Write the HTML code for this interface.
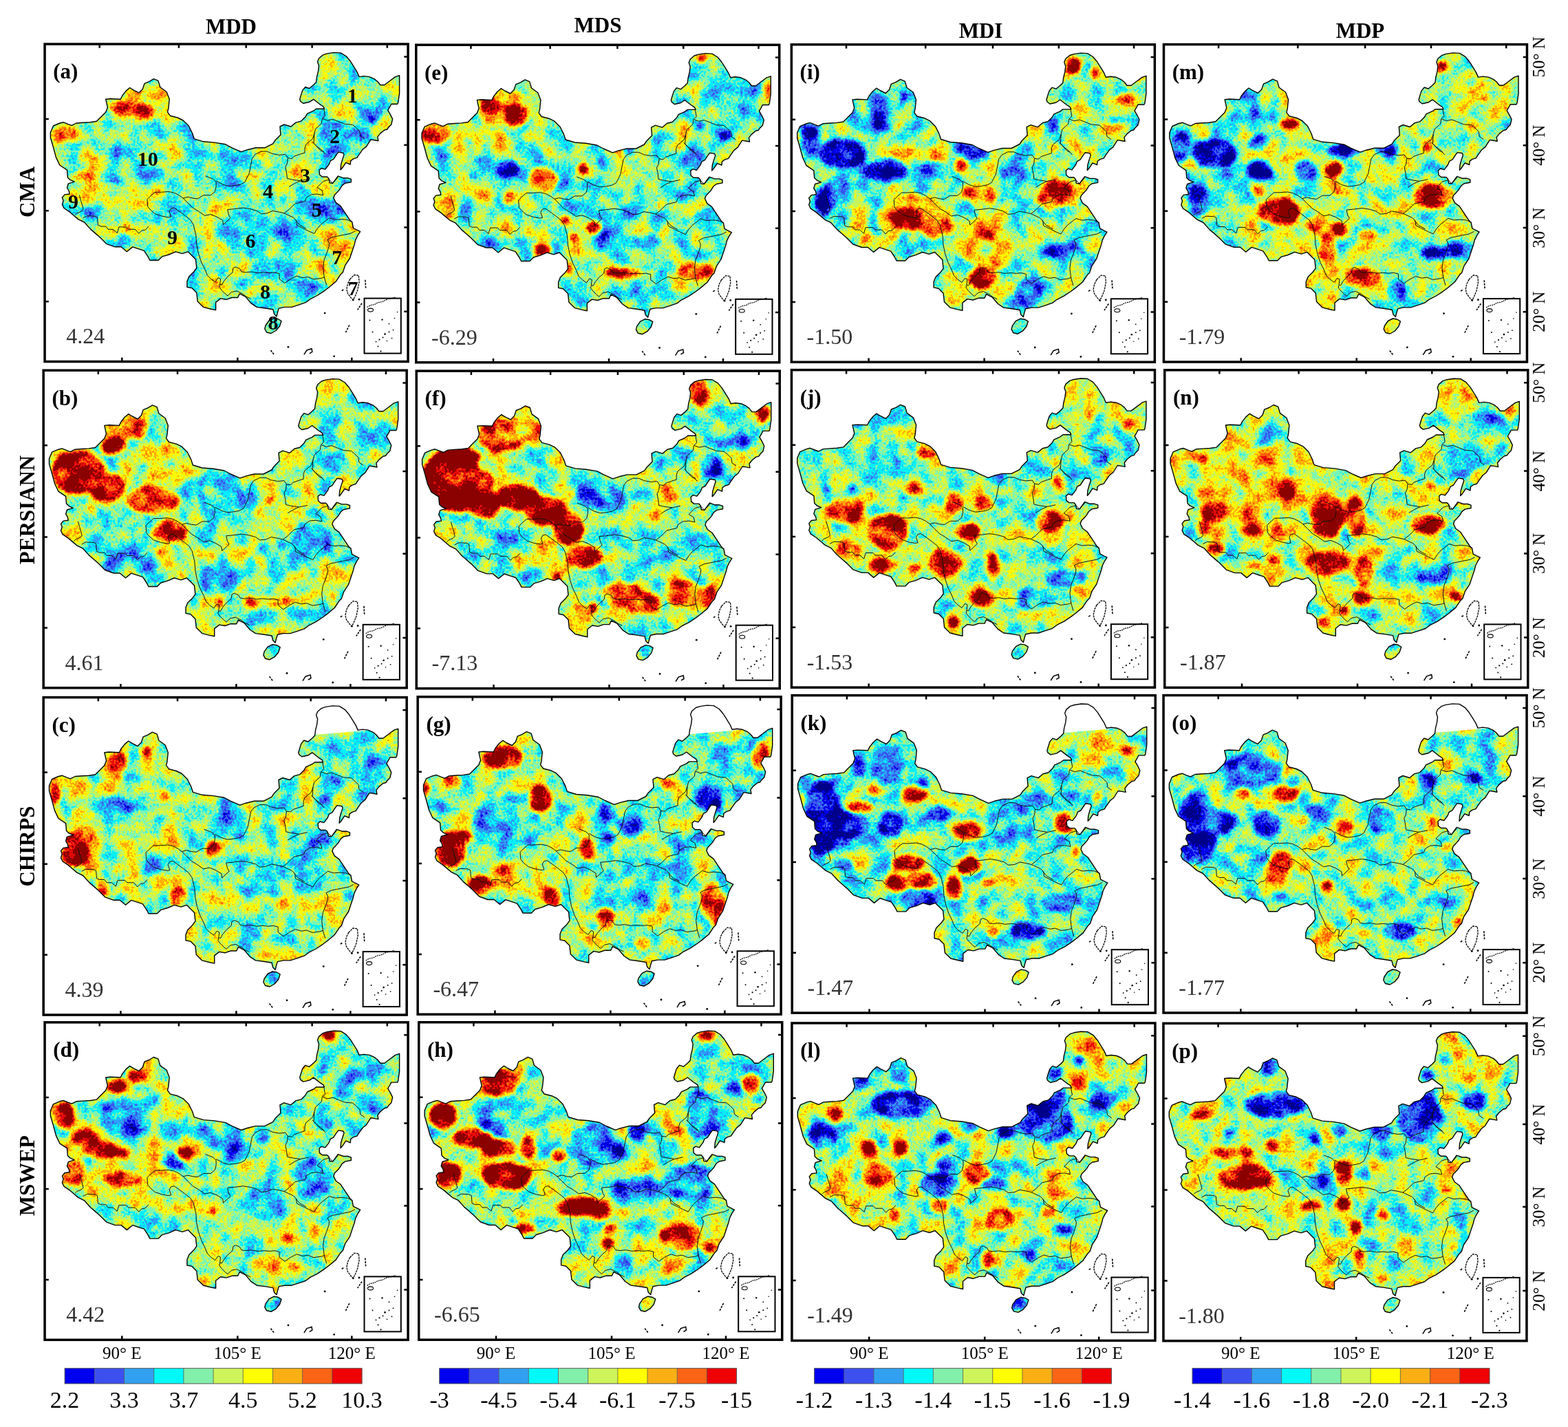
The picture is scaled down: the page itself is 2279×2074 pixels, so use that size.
<!DOCTYPE html><html><head><meta charset="utf-8"><title>Figure</title><style>html,body{margin:0;padding:0;background:#fff}body{width:2279px;height:2074px;overflow:hidden}svg{display:block}text{font-family:"Liberation Serif","Times New Roman",serif}</style></head><body>
<svg xmlns="http://www.w3.org/2000/svg" width="2279" height="2074" viewBox="0 0 2279 2074">
<defs>
<clipPath id="cn"><path d="M10.1,130.1 14.1,120.7 23.5,116.7 28.7,115.4 35.5,118.1 40.9,120.1 47.6,116.7 57,116 67.7,115.4 77.1,114 82.4,108.7 90.4,100.7 93.1,93.9 90.4,81.9 97.1,81.2 111.9,81.9 114.6,76.5 119.9,69.8 125.3,65.2 130.6,68.5 138.7,72.5 144,67.2 146.7,59.1 153.4,56.4 160.1,52.4 166.7,55.1 169.5,64.5 178.8,71.2 182.9,81.9 181.5,95.3 180.2,100.6 184.2,106 194.9,108.7 202.9,112.7 211,120.7 216.3,131.4 219,139.5 232.4,143.5 248.5,144.8 264.5,147.5 273.9,152.5 287.3,158.4 296.2,155.4 308.1,152.5 321.5,152.5 333.4,146.5 336.7,141.5 344.6,133.6 343.6,121.7 349.6,118.7 359.5,121.7 366.5,115.8 374.4,113.8 380.4,107.8 383.3,102.9 392.3,98.9 396.2,95.9 408.1,95.9 406.7,92.7 401.2,89 392.3,82 386.3,86 377.4,88 373.4,85 372.4,82 374.4,75.1 376.4,69.1 380.4,64.2 386.3,66.2 392.3,61.2 396.2,57.2 397.2,49.3 399.2,41.4 400.2,33.4 398.2,27.5 400.2,22.5 406.1,17.5 412.1,15.6 422,14.1 431.9,14.6 439.9,19.5 445.8,26.5 450.8,34.4 455.7,42.3 458.7,49.3 465.7,48.3 473.6,49.3 480.5,52.3 485.5,56.2 489.5,61.2 495.4,61.2 503.4,55.2 511.3,49.3 517.3,47.3 517.3,59.2 517.3,73.1 515.3,87 514.3,89 505.4,89 503.4,92.9 500.4,97.9 504.4,104.8 507.3,110.8 505.4,118.7 501.4,122.7 499.4,125.7 495.4,126.7 489.5,131.6 485.5,136.6 486.5,142.5 481.5,141.5 475.6,140.6 469.3,150.6 463.9,154.9 458.4,162.6 455.7,166.9 450.3,168.6 446.5,171.3 445.9,176.7 443.7,175.7 439.4,174 433.9,182.2 431.7,184.4 432.3,176.7 434.5,169.1 436.7,162.6 435.6,159.9 428.5,158.8 425.7,162.6 421.4,169.1 417,171.3 414.8,176.7 409.4,183.8 403.9,182.2 400.7,184.9 401.2,191.5 405,194.7 412.1,194.7 414.8,197.5 415.9,203.4 420.3,204 424.7,198 427.9,193.6 435.6,196.4 442.1,196.4 447,198 447,202.4 438.3,204 433.9,207.3 430.7,212.7 426.8,217.1 423,220.9 421.5,225.3 424.8,232.1 431.6,237.1 438.4,247.3 445.1,257.4 448.5,260.8 450.2,269.2 456.9,272.6 460.3,274.3 456.9,279.4 453.6,286.1 451.9,292.9 448.5,303 445.1,313.2 438.4,323.3 435,333.4 431.6,336.8 424.8,347 414.7,355.4 407.9,360.5 397.8,367.2 387.7,372.3 380.9,377.4 370.8,380.8 360.6,384.1 350.5,384.1 342,385.8 340.4,390.9 338.7,397.7 335.3,394.3 333.6,387.5 321.1,385.5 310,384.1 301.7,378.5 293.4,368.8 285,364.6 282.3,370.2 273.9,370.2 265.6,373 257.3,371.6 250.3,377.1 250.3,388.3 243.4,386.9 232.3,384.1 223.9,375.8 222.5,363.3 215.6,356.3 208.6,354.9 208.6,346.6 211.4,339.6 218.4,332.7 222.5,327.1 221.1,314.6 215.6,309.1 210,303.5 201.7,306.3 192,303.5 182.3,307.7 172.5,310.5 167,316 154.5,316 151.7,310.5 146.1,302.1 137.8,299.4 129.5,296.6 121.1,303.5 112.8,296.5 103.8,296.5 91.3,292 81.5,282.2 75.3,276.8 68.1,270.6 59.2,260.7 50.3,256.3 44,250.9 37.8,245.6 29.7,240.2 27.1,234.8 28.8,229.5 27.1,225 30.6,220.6 37.8,219.7 36.9,215.2 34.2,210.7 36,204.5 44.9,201.8 38.7,199.1 35.1,195.6 34.2,184.8 23.5,177.7 18.1,166.3 14.1,151.5 10.1,137.7ZM322.7,410.7 327.7,403.7 334.7,400.2 340.7,401.2 345.7,404.2 343.2,411.7 337.7,418.2 330.7,422.2 324.2,420.7 321.5,415.7Z"/></clipPath>
<clipPath id="ch"><path d="M-50,-50H380V57.5L600,38.9V600H-50Z"/></clipPath>
<path id="cnl" d="M10.1,130.1 14.1,120.7 23.5,116.7 28.7,115.4 35.5,118.1 40.9,120.1 47.6,116.7 57,116 67.7,115.4 77.1,114 82.4,108.7 90.4,100.7 93.1,93.9 90.4,81.9 97.1,81.2 111.9,81.9 114.6,76.5 119.9,69.8 125.3,65.2 130.6,68.5 138.7,72.5 144,67.2 146.7,59.1 153.4,56.4 160.1,52.4 166.7,55.1 169.5,64.5 178.8,71.2 182.9,81.9 181.5,95.3 180.2,100.6 184.2,106 194.9,108.7 202.9,112.7 211,120.7 216.3,131.4 219,139.5 232.4,143.5 248.5,144.8 264.5,147.5 273.9,152.5 287.3,158.4 296.2,155.4 308.1,152.5 321.5,152.5 333.4,146.5 336.7,141.5 344.6,133.6 343.6,121.7 349.6,118.7 359.5,121.7 366.5,115.8 374.4,113.8 380.4,107.8 383.3,102.9 392.3,98.9 396.2,95.9 408.1,95.9 406.7,92.7 401.2,89 392.3,82 386.3,86 377.4,88 373.4,85 372.4,82 374.4,75.1 376.4,69.1 380.4,64.2 386.3,66.2 392.3,61.2 396.2,57.2 397.2,49.3 399.2,41.4 400.2,33.4 398.2,27.5 400.2,22.5 406.1,17.5 412.1,15.6 422,14.1 431.9,14.6 439.9,19.5 445.8,26.5 450.8,34.4 455.7,42.3 458.7,49.3 465.7,48.3 473.6,49.3 480.5,52.3 485.5,56.2 489.5,61.2 495.4,61.2 503.4,55.2 511.3,49.3 517.3,47.3 517.3,59.2 517.3,73.1 515.3,87 514.3,89 505.4,89 503.4,92.9 500.4,97.9 504.4,104.8 507.3,110.8 505.4,118.7 501.4,122.7 499.4,125.7 495.4,126.7 489.5,131.6 485.5,136.6 486.5,142.5 481.5,141.5 475.6,140.6 469.3,150.6 463.9,154.9 458.4,162.6 455.7,166.9 450.3,168.6 446.5,171.3 445.9,176.7 443.7,175.7 439.4,174 433.9,182.2 431.7,184.4 432.3,176.7 434.5,169.1 436.7,162.6 435.6,159.9 428.5,158.8 425.7,162.6 421.4,169.1 417,171.3 414.8,176.7 409.4,183.8 403.9,182.2 400.7,184.9 401.2,191.5 405,194.7 412.1,194.7 414.8,197.5 415.9,203.4 420.3,204 424.7,198 427.9,193.6 435.6,196.4 442.1,196.4 447,198 447,202.4 438.3,204 433.9,207.3 430.7,212.7 426.8,217.1 423,220.9 421.5,225.3 424.8,232.1 431.6,237.1 438.4,247.3 445.1,257.4 448.5,260.8 450.2,269.2 456.9,272.6 460.3,274.3 456.9,279.4 453.6,286.1 451.9,292.9 448.5,303 445.1,313.2 438.4,323.3 435,333.4 431.6,336.8 424.8,347 414.7,355.4 407.9,360.5 397.8,367.2 387.7,372.3 380.9,377.4 370.8,380.8 360.6,384.1 350.5,384.1 342,385.8 340.4,390.9 338.7,397.7 335.3,394.3 333.6,387.5 321.1,385.5 310,384.1 301.7,378.5 293.4,368.8 285,364.6 282.3,370.2 273.9,370.2 265.6,373 257.3,371.6 250.3,377.1 250.3,388.3 243.4,386.9 232.3,384.1 223.9,375.8 222.5,363.3 215.6,356.3 208.6,354.9 208.6,346.6 211.4,339.6 218.4,332.7 222.5,327.1 221.1,314.6 215.6,309.1 210,303.5 201.7,306.3 192,303.5 182.3,307.7 172.5,310.5 167,316 154.5,316 151.7,310.5 146.1,302.1 137.8,299.4 129.5,296.6 121.1,303.5 112.8,296.5 103.8,296.5 91.3,292 81.5,282.2 75.3,276.8 68.1,270.6 59.2,260.7 50.3,256.3 44,250.9 37.8,245.6 29.7,240.2 27.1,234.8 28.8,229.5 27.1,225 30.6,220.6 37.8,219.7 36.9,215.2 34.2,210.7 36,204.5 44.9,201.8 38.7,199.1 35.1,195.6 34.2,184.8 23.5,177.7 18.1,166.3 14.1,151.5 10.1,137.7ZM322.7,410.7 327.7,403.7 334.7,400.2 340.7,401.2 345.7,404.2 343.2,411.7 337.7,418.2 330.7,422.2 324.2,420.7 321.5,415.7Z" fill="none" stroke="#000" stroke-width="1.4" stroke-linejoin="round"/>
<filter id="fa" filterUnits="userSpaceOnUse" x="-10" y="-10" width="552" height="486" color-interpolation-filters="sRGB"><feTurbulence type="fractalNoise" baseFrequency="0.035" numOctaves="2" seed="3" result="t1"/><feColorMatrix in="t1" type="matrix" values="1 0 0 0 0 1 0 0 0 0 1 0 0 0 0 0 0 0 0 1" result="g1"/><feTurbulence type="fractalNoise" baseFrequency="0.3" numOctaves="1" seed="103" result="t2"/><feColorMatrix in="t2" type="matrix" values="1 0 0 0 0 1 0 0 0 0 1 0 0 0 0 0 0 0 0 1" result="g2"/><feComposite in="g1" in2="g2" operator="arithmetic" k1="0" k2="0.75" k3="0.35" k4="-0.050000000000000044" result="n"/><feGaussianBlur in="SourceGraphic" stdDeviation="3" result="b"/><feComposite in="n" in2="b" operator="arithmetic" k1="0" k2="1" k3="1" k4="-0.5"/><feComponentTransfer><feFuncR type="discrete" tableValues="0.000 0.000 0.216 0.176 0.000 0.490 0.784 1.000 1.000 1.000 0.922 0.549"/><feFuncG type="discrete" tableValues="0.000 0.000 0.333 0.627 0.941 0.961 0.961 0.980 0.686 0.373 0.039 0.000"/><feFuncB type="discrete" tableValues="0.549 0.922 0.941 0.961 0.980 0.706 0.353 0.000 0.039 0.039 0.039 0.000"/><feFuncA type="linear" slope="0" intercept="1"/></feComponentTransfer></filter>
<filter id="fb" filterUnits="userSpaceOnUse" x="-10" y="-10" width="552" height="486" color-interpolation-filters="sRGB"><feTurbulence type="fractalNoise" baseFrequency="0.035" numOctaves="2" seed="10" result="t1"/><feColorMatrix in="t1" type="matrix" values="1 0 0 0 0 1 0 0 0 0 1 0 0 0 0 0 0 0 0 1" result="g1"/><feTurbulence type="fractalNoise" baseFrequency="0.3" numOctaves="1" seed="110" result="t2"/><feColorMatrix in="t2" type="matrix" values="1 0 0 0 0 1 0 0 0 0 1 0 0 0 0 0 0 0 0 1" result="g2"/><feComposite in="g1" in2="g2" operator="arithmetic" k1="0" k2="0.75" k3="0.35" k4="-0.050000000000000044" result="n"/><feGaussianBlur in="SourceGraphic" stdDeviation="3" result="b"/><feComposite in="n" in2="b" operator="arithmetic" k1="0" k2="1" k3="1" k4="-0.5"/><feComponentTransfer><feFuncR type="discrete" tableValues="0.000 0.000 0.216 0.176 0.000 0.490 0.784 1.000 1.000 1.000 0.922 0.549"/><feFuncG type="discrete" tableValues="0.000 0.000 0.333 0.627 0.941 0.961 0.961 0.980 0.686 0.373 0.039 0.000"/><feFuncB type="discrete" tableValues="0.549 0.922 0.941 0.961 0.980 0.706 0.353 0.000 0.039 0.039 0.039 0.000"/><feFuncA type="linear" slope="0" intercept="1"/></feComponentTransfer></filter>
<filter id="fc" filterUnits="userSpaceOnUse" x="-10" y="-10" width="552" height="486" color-interpolation-filters="sRGB"><feTurbulence type="fractalNoise" baseFrequency="0.035" numOctaves="2" seed="17" result="t1"/><feColorMatrix in="t1" type="matrix" values="1 0 0 0 0 1 0 0 0 0 1 0 0 0 0 0 0 0 0 1" result="g1"/><feTurbulence type="fractalNoise" baseFrequency="0.3" numOctaves="1" seed="117" result="t2"/><feColorMatrix in="t2" type="matrix" values="1 0 0 0 0 1 0 0 0 0 1 0 0 0 0 0 0 0 0 1" result="g2"/><feComposite in="g1" in2="g2" operator="arithmetic" k1="0" k2="0.75" k3="0.35" k4="-0.050000000000000044" result="n"/><feGaussianBlur in="SourceGraphic" stdDeviation="3" result="b"/><feComposite in="n" in2="b" operator="arithmetic" k1="0" k2="1" k3="1" k4="-0.5"/><feComponentTransfer><feFuncR type="discrete" tableValues="0.000 0.000 0.216 0.176 0.000 0.490 0.784 1.000 1.000 1.000 0.922 0.549"/><feFuncG type="discrete" tableValues="0.000 0.000 0.333 0.627 0.941 0.961 0.961 0.980 0.686 0.373 0.039 0.000"/><feFuncB type="discrete" tableValues="0.549 0.922 0.941 0.961 0.980 0.706 0.353 0.000 0.039 0.039 0.039 0.000"/><feFuncA type="linear" slope="0" intercept="1"/></feComponentTransfer></filter>
<filter id="fd" filterUnits="userSpaceOnUse" x="-10" y="-10" width="552" height="486" color-interpolation-filters="sRGB"><feTurbulence type="fractalNoise" baseFrequency="0.035" numOctaves="2" seed="24" result="t1"/><feColorMatrix in="t1" type="matrix" values="1 0 0 0 0 1 0 0 0 0 1 0 0 0 0 0 0 0 0 1" result="g1"/><feTurbulence type="fractalNoise" baseFrequency="0.3" numOctaves="1" seed="124" result="t2"/><feColorMatrix in="t2" type="matrix" values="1 0 0 0 0 1 0 0 0 0 1 0 0 0 0 0 0 0 0 1" result="g2"/><feComposite in="g1" in2="g2" operator="arithmetic" k1="0" k2="0.75" k3="0.35" k4="-0.050000000000000044" result="n"/><feGaussianBlur in="SourceGraphic" stdDeviation="3" result="b"/><feComposite in="n" in2="b" operator="arithmetic" k1="0" k2="1" k3="1" k4="-0.5"/><feComponentTransfer><feFuncR type="discrete" tableValues="0.000 0.000 0.216 0.176 0.000 0.490 0.784 1.000 1.000 1.000 0.922 0.549"/><feFuncG type="discrete" tableValues="0.000 0.000 0.333 0.627 0.941 0.961 0.961 0.980 0.686 0.373 0.039 0.000"/><feFuncB type="discrete" tableValues="0.549 0.922 0.941 0.961 0.980 0.706 0.353 0.000 0.039 0.039 0.039 0.000"/><feFuncA type="linear" slope="0" intercept="1"/></feComponentTransfer></filter>
<filter id="fe" filterUnits="userSpaceOnUse" x="-10" y="-10" width="552" height="486" color-interpolation-filters="sRGB"><feTurbulence type="fractalNoise" baseFrequency="0.035" numOctaves="2" seed="31" result="t1"/><feColorMatrix in="t1" type="matrix" values="1 0 0 0 0 1 0 0 0 0 1 0 0 0 0 0 0 0 0 1" result="g1"/><feTurbulence type="fractalNoise" baseFrequency="0.3" numOctaves="1" seed="131" result="t2"/><feColorMatrix in="t2" type="matrix" values="1 0 0 0 0 1 0 0 0 0 1 0 0 0 0 0 0 0 0 1" result="g2"/><feComposite in="g1" in2="g2" operator="arithmetic" k1="0" k2="0.75" k3="0.35" k4="-0.050000000000000044" result="n"/><feGaussianBlur in="SourceGraphic" stdDeviation="3" result="b"/><feComposite in="n" in2="b" operator="arithmetic" k1="0" k2="1" k3="1" k4="-0.5"/><feComponentTransfer><feFuncR type="discrete" tableValues="0.000 0.000 0.216 0.176 0.000 0.490 0.784 1.000 1.000 1.000 0.922 0.549"/><feFuncG type="discrete" tableValues="0.000 0.000 0.333 0.627 0.941 0.961 0.961 0.980 0.686 0.373 0.039 0.000"/><feFuncB type="discrete" tableValues="0.549 0.922 0.941 0.961 0.980 0.706 0.353 0.000 0.039 0.039 0.039 0.000"/><feFuncA type="linear" slope="0" intercept="1"/></feComponentTransfer></filter>
<filter id="ff" filterUnits="userSpaceOnUse" x="-10" y="-10" width="552" height="486" color-interpolation-filters="sRGB"><feTurbulence type="fractalNoise" baseFrequency="0.035" numOctaves="2" seed="38" result="t1"/><feColorMatrix in="t1" type="matrix" values="1 0 0 0 0 1 0 0 0 0 1 0 0 0 0 0 0 0 0 1" result="g1"/><feTurbulence type="fractalNoise" baseFrequency="0.3" numOctaves="1" seed="138" result="t2"/><feColorMatrix in="t2" type="matrix" values="1 0 0 0 0 1 0 0 0 0 1 0 0 0 0 0 0 0 0 1" result="g2"/><feComposite in="g1" in2="g2" operator="arithmetic" k1="0" k2="0.75" k3="0.35" k4="-0.050000000000000044" result="n"/><feGaussianBlur in="SourceGraphic" stdDeviation="3" result="b"/><feComposite in="n" in2="b" operator="arithmetic" k1="0" k2="1" k3="1" k4="-0.5"/><feComponentTransfer><feFuncR type="discrete" tableValues="0.000 0.000 0.216 0.176 0.000 0.490 0.784 1.000 1.000 1.000 0.922 0.549"/><feFuncG type="discrete" tableValues="0.000 0.000 0.333 0.627 0.941 0.961 0.961 0.980 0.686 0.373 0.039 0.000"/><feFuncB type="discrete" tableValues="0.549 0.922 0.941 0.961 0.980 0.706 0.353 0.000 0.039 0.039 0.039 0.000"/><feFuncA type="linear" slope="0" intercept="1"/></feComponentTransfer></filter>
<filter id="fg" filterUnits="userSpaceOnUse" x="-10" y="-10" width="552" height="486" color-interpolation-filters="sRGB"><feTurbulence type="fractalNoise" baseFrequency="0.035" numOctaves="2" seed="45" result="t1"/><feColorMatrix in="t1" type="matrix" values="1 0 0 0 0 1 0 0 0 0 1 0 0 0 0 0 0 0 0 1" result="g1"/><feTurbulence type="fractalNoise" baseFrequency="0.3" numOctaves="1" seed="145" result="t2"/><feColorMatrix in="t2" type="matrix" values="1 0 0 0 0 1 0 0 0 0 1 0 0 0 0 0 0 0 0 1" result="g2"/><feComposite in="g1" in2="g2" operator="arithmetic" k1="0" k2="0.75" k3="0.35" k4="-0.050000000000000044" result="n"/><feGaussianBlur in="SourceGraphic" stdDeviation="3" result="b"/><feComposite in="n" in2="b" operator="arithmetic" k1="0" k2="1" k3="1" k4="-0.5"/><feComponentTransfer><feFuncR type="discrete" tableValues="0.000 0.000 0.216 0.176 0.000 0.490 0.784 1.000 1.000 1.000 0.922 0.549"/><feFuncG type="discrete" tableValues="0.000 0.000 0.333 0.627 0.941 0.961 0.961 0.980 0.686 0.373 0.039 0.000"/><feFuncB type="discrete" tableValues="0.549 0.922 0.941 0.961 0.980 0.706 0.353 0.000 0.039 0.039 0.039 0.000"/><feFuncA type="linear" slope="0" intercept="1"/></feComponentTransfer></filter>
<filter id="fh" filterUnits="userSpaceOnUse" x="-10" y="-10" width="552" height="486" color-interpolation-filters="sRGB"><feTurbulence type="fractalNoise" baseFrequency="0.035" numOctaves="2" seed="52" result="t1"/><feColorMatrix in="t1" type="matrix" values="1 0 0 0 0 1 0 0 0 0 1 0 0 0 0 0 0 0 0 1" result="g1"/><feTurbulence type="fractalNoise" baseFrequency="0.3" numOctaves="1" seed="152" result="t2"/><feColorMatrix in="t2" type="matrix" values="1 0 0 0 0 1 0 0 0 0 1 0 0 0 0 0 0 0 0 1" result="g2"/><feComposite in="g1" in2="g2" operator="arithmetic" k1="0" k2="0.75" k3="0.35" k4="-0.050000000000000044" result="n"/><feGaussianBlur in="SourceGraphic" stdDeviation="3" result="b"/><feComposite in="n" in2="b" operator="arithmetic" k1="0" k2="1" k3="1" k4="-0.5"/><feComponentTransfer><feFuncR type="discrete" tableValues="0.000 0.000 0.216 0.176 0.000 0.490 0.784 1.000 1.000 1.000 0.922 0.549"/><feFuncG type="discrete" tableValues="0.000 0.000 0.333 0.627 0.941 0.961 0.961 0.980 0.686 0.373 0.039 0.000"/><feFuncB type="discrete" tableValues="0.549 0.922 0.941 0.961 0.980 0.706 0.353 0.000 0.039 0.039 0.039 0.000"/><feFuncA type="linear" slope="0" intercept="1"/></feComponentTransfer></filter>
<filter id="fi" filterUnits="userSpaceOnUse" x="-10" y="-10" width="552" height="486" color-interpolation-filters="sRGB"><feTurbulence type="fractalNoise" baseFrequency="0.035" numOctaves="2" seed="59" result="t1"/><feColorMatrix in="t1" type="matrix" values="1 0 0 0 0 1 0 0 0 0 1 0 0 0 0 0 0 0 0 1" result="g1"/><feTurbulence type="fractalNoise" baseFrequency="0.3" numOctaves="1" seed="159" result="t2"/><feColorMatrix in="t2" type="matrix" values="1 0 0 0 0 1 0 0 0 0 1 0 0 0 0 0 0 0 0 1" result="g2"/><feComposite in="g1" in2="g2" operator="arithmetic" k1="0" k2="0.75" k3="0.35" k4="-0.050000000000000044" result="n"/><feGaussianBlur in="SourceGraphic" stdDeviation="3" result="b"/><feComposite in="n" in2="b" operator="arithmetic" k1="0" k2="1" k3="1" k4="-0.5"/><feComponentTransfer><feFuncR type="discrete" tableValues="0.000 0.000 0.216 0.176 0.000 0.490 0.784 1.000 1.000 1.000 0.922 0.549"/><feFuncG type="discrete" tableValues="0.000 0.000 0.333 0.627 0.941 0.961 0.961 0.980 0.686 0.373 0.039 0.000"/><feFuncB type="discrete" tableValues="0.549 0.922 0.941 0.961 0.980 0.706 0.353 0.000 0.039 0.039 0.039 0.000"/><feFuncA type="linear" slope="0" intercept="1"/></feComponentTransfer></filter>
<filter id="fj" filterUnits="userSpaceOnUse" x="-10" y="-10" width="552" height="486" color-interpolation-filters="sRGB"><feTurbulence type="fractalNoise" baseFrequency="0.035" numOctaves="2" seed="66" result="t1"/><feColorMatrix in="t1" type="matrix" values="1 0 0 0 0 1 0 0 0 0 1 0 0 0 0 0 0 0 0 1" result="g1"/><feTurbulence type="fractalNoise" baseFrequency="0.3" numOctaves="1" seed="166" result="t2"/><feColorMatrix in="t2" type="matrix" values="1 0 0 0 0 1 0 0 0 0 1 0 0 0 0 0 0 0 0 1" result="g2"/><feComposite in="g1" in2="g2" operator="arithmetic" k1="0" k2="0.75" k3="0.35" k4="-0.050000000000000044" result="n"/><feGaussianBlur in="SourceGraphic" stdDeviation="3" result="b"/><feComposite in="n" in2="b" operator="arithmetic" k1="0" k2="1" k3="1" k4="-0.5"/><feComponentTransfer><feFuncR type="discrete" tableValues="0.000 0.000 0.216 0.176 0.000 0.490 0.784 1.000 1.000 1.000 0.922 0.549"/><feFuncG type="discrete" tableValues="0.000 0.000 0.333 0.627 0.941 0.961 0.961 0.980 0.686 0.373 0.039 0.000"/><feFuncB type="discrete" tableValues="0.549 0.922 0.941 0.961 0.980 0.706 0.353 0.000 0.039 0.039 0.039 0.000"/><feFuncA type="linear" slope="0" intercept="1"/></feComponentTransfer></filter>
<filter id="fk" filterUnits="userSpaceOnUse" x="-10" y="-10" width="552" height="486" color-interpolation-filters="sRGB"><feTurbulence type="fractalNoise" baseFrequency="0.035" numOctaves="2" seed="73" result="t1"/><feColorMatrix in="t1" type="matrix" values="1 0 0 0 0 1 0 0 0 0 1 0 0 0 0 0 0 0 0 1" result="g1"/><feTurbulence type="fractalNoise" baseFrequency="0.3" numOctaves="1" seed="173" result="t2"/><feColorMatrix in="t2" type="matrix" values="1 0 0 0 0 1 0 0 0 0 1 0 0 0 0 0 0 0 0 1" result="g2"/><feComposite in="g1" in2="g2" operator="arithmetic" k1="0" k2="0.75" k3="0.35" k4="-0.050000000000000044" result="n"/><feGaussianBlur in="SourceGraphic" stdDeviation="3" result="b"/><feComposite in="n" in2="b" operator="arithmetic" k1="0" k2="1" k3="1" k4="-0.5"/><feComponentTransfer><feFuncR type="discrete" tableValues="0.000 0.000 0.216 0.176 0.000 0.490 0.784 1.000 1.000 1.000 0.922 0.549"/><feFuncG type="discrete" tableValues="0.000 0.000 0.333 0.627 0.941 0.961 0.961 0.980 0.686 0.373 0.039 0.000"/><feFuncB type="discrete" tableValues="0.549 0.922 0.941 0.961 0.980 0.706 0.353 0.000 0.039 0.039 0.039 0.000"/><feFuncA type="linear" slope="0" intercept="1"/></feComponentTransfer></filter>
<filter id="fl" filterUnits="userSpaceOnUse" x="-10" y="-10" width="552" height="486" color-interpolation-filters="sRGB"><feTurbulence type="fractalNoise" baseFrequency="0.035" numOctaves="2" seed="80" result="t1"/><feColorMatrix in="t1" type="matrix" values="1 0 0 0 0 1 0 0 0 0 1 0 0 0 0 0 0 0 0 1" result="g1"/><feTurbulence type="fractalNoise" baseFrequency="0.3" numOctaves="1" seed="180" result="t2"/><feColorMatrix in="t2" type="matrix" values="1 0 0 0 0 1 0 0 0 0 1 0 0 0 0 0 0 0 0 1" result="g2"/><feComposite in="g1" in2="g2" operator="arithmetic" k1="0" k2="0.75" k3="0.35" k4="-0.050000000000000044" result="n"/><feGaussianBlur in="SourceGraphic" stdDeviation="3" result="b"/><feComposite in="n" in2="b" operator="arithmetic" k1="0" k2="1" k3="1" k4="-0.5"/><feComponentTransfer><feFuncR type="discrete" tableValues="0.000 0.000 0.216 0.176 0.000 0.490 0.784 1.000 1.000 1.000 0.922 0.549"/><feFuncG type="discrete" tableValues="0.000 0.000 0.333 0.627 0.941 0.961 0.961 0.980 0.686 0.373 0.039 0.000"/><feFuncB type="discrete" tableValues="0.549 0.922 0.941 0.961 0.980 0.706 0.353 0.000 0.039 0.039 0.039 0.000"/><feFuncA type="linear" slope="0" intercept="1"/></feComponentTransfer></filter>
<filter id="fm" filterUnits="userSpaceOnUse" x="-10" y="-10" width="552" height="486" color-interpolation-filters="sRGB"><feTurbulence type="fractalNoise" baseFrequency="0.035" numOctaves="2" seed="87" result="t1"/><feColorMatrix in="t1" type="matrix" values="1 0 0 0 0 1 0 0 0 0 1 0 0 0 0 0 0 0 0 1" result="g1"/><feTurbulence type="fractalNoise" baseFrequency="0.3" numOctaves="1" seed="187" result="t2"/><feColorMatrix in="t2" type="matrix" values="1 0 0 0 0 1 0 0 0 0 1 0 0 0 0 0 0 0 0 1" result="g2"/><feComposite in="g1" in2="g2" operator="arithmetic" k1="0" k2="0.75" k3="0.35" k4="-0.050000000000000044" result="n"/><feGaussianBlur in="SourceGraphic" stdDeviation="3" result="b"/><feComposite in="n" in2="b" operator="arithmetic" k1="0" k2="1" k3="1" k4="-0.5"/><feComponentTransfer><feFuncR type="discrete" tableValues="0.000 0.000 0.216 0.176 0.000 0.490 0.784 1.000 1.000 1.000 0.922 0.549"/><feFuncG type="discrete" tableValues="0.000 0.000 0.333 0.627 0.941 0.961 0.961 0.980 0.686 0.373 0.039 0.000"/><feFuncB type="discrete" tableValues="0.549 0.922 0.941 0.961 0.980 0.706 0.353 0.000 0.039 0.039 0.039 0.000"/><feFuncA type="linear" slope="0" intercept="1"/></feComponentTransfer></filter>
<filter id="fn" filterUnits="userSpaceOnUse" x="-10" y="-10" width="552" height="486" color-interpolation-filters="sRGB"><feTurbulence type="fractalNoise" baseFrequency="0.035" numOctaves="2" seed="94" result="t1"/><feColorMatrix in="t1" type="matrix" values="1 0 0 0 0 1 0 0 0 0 1 0 0 0 0 0 0 0 0 1" result="g1"/><feTurbulence type="fractalNoise" baseFrequency="0.3" numOctaves="1" seed="194" result="t2"/><feColorMatrix in="t2" type="matrix" values="1 0 0 0 0 1 0 0 0 0 1 0 0 0 0 0 0 0 0 1" result="g2"/><feComposite in="g1" in2="g2" operator="arithmetic" k1="0" k2="0.75" k3="0.35" k4="-0.050000000000000044" result="n"/><feGaussianBlur in="SourceGraphic" stdDeviation="3" result="b"/><feComposite in="n" in2="b" operator="arithmetic" k1="0" k2="1" k3="1" k4="-0.5"/><feComponentTransfer><feFuncR type="discrete" tableValues="0.000 0.000 0.216 0.176 0.000 0.490 0.784 1.000 1.000 1.000 0.922 0.549"/><feFuncG type="discrete" tableValues="0.000 0.000 0.333 0.627 0.941 0.961 0.961 0.980 0.686 0.373 0.039 0.000"/><feFuncB type="discrete" tableValues="0.549 0.922 0.941 0.961 0.980 0.706 0.353 0.000 0.039 0.039 0.039 0.000"/><feFuncA type="linear" slope="0" intercept="1"/></feComponentTransfer></filter>
<filter id="fo" filterUnits="userSpaceOnUse" x="-10" y="-10" width="552" height="486" color-interpolation-filters="sRGB"><feTurbulence type="fractalNoise" baseFrequency="0.035" numOctaves="2" seed="101" result="t1"/><feColorMatrix in="t1" type="matrix" values="1 0 0 0 0 1 0 0 0 0 1 0 0 0 0 0 0 0 0 1" result="g1"/><feTurbulence type="fractalNoise" baseFrequency="0.3" numOctaves="1" seed="201" result="t2"/><feColorMatrix in="t2" type="matrix" values="1 0 0 0 0 1 0 0 0 0 1 0 0 0 0 0 0 0 0 1" result="g2"/><feComposite in="g1" in2="g2" operator="arithmetic" k1="0" k2="0.75" k3="0.35" k4="-0.050000000000000044" result="n"/><feGaussianBlur in="SourceGraphic" stdDeviation="3" result="b"/><feComposite in="n" in2="b" operator="arithmetic" k1="0" k2="1" k3="1" k4="-0.5"/><feComponentTransfer><feFuncR type="discrete" tableValues="0.000 0.000 0.216 0.176 0.000 0.490 0.784 1.000 1.000 1.000 0.922 0.549"/><feFuncG type="discrete" tableValues="0.000 0.000 0.333 0.627 0.941 0.961 0.961 0.980 0.686 0.373 0.039 0.000"/><feFuncB type="discrete" tableValues="0.549 0.922 0.941 0.961 0.980 0.706 0.353 0.000 0.039 0.039 0.039 0.000"/><feFuncA type="linear" slope="0" intercept="1"/></feComponentTransfer></filter>
<filter id="fp" filterUnits="userSpaceOnUse" x="-10" y="-10" width="552" height="486" color-interpolation-filters="sRGB"><feTurbulence type="fractalNoise" baseFrequency="0.035" numOctaves="2" seed="108" result="t1"/><feColorMatrix in="t1" type="matrix" values="1 0 0 0 0 1 0 0 0 0 1 0 0 0 0 0 0 0 0 1" result="g1"/><feTurbulence type="fractalNoise" baseFrequency="0.3" numOctaves="1" seed="208" result="t2"/><feColorMatrix in="t2" type="matrix" values="1 0 0 0 0 1 0 0 0 0 1 0 0 0 0 0 0 0 0 1" result="g2"/><feComposite in="g1" in2="g2" operator="arithmetic" k1="0" k2="0.75" k3="0.35" k4="-0.050000000000000044" result="n"/><feGaussianBlur in="SourceGraphic" stdDeviation="3" result="b"/><feComposite in="n" in2="b" operator="arithmetic" k1="0" k2="1" k3="1" k4="-0.5"/><feComponentTransfer><feFuncR type="discrete" tableValues="0.000 0.000 0.216 0.176 0.000 0.490 0.784 1.000 1.000 1.000 0.922 0.549"/><feFuncG type="discrete" tableValues="0.000 0.000 0.333 0.627 0.941 0.961 0.961 0.980 0.686 0.373 0.039 0.000"/><feFuncB type="discrete" tableValues="0.549 0.922 0.941 0.961 0.980 0.706 0.353 0.000 0.039 0.039 0.039 0.000"/><feFuncA type="linear" slope="0" intercept="1"/></feComponentTransfer></filter>
<g id="prov" fill="none" stroke="#111" stroke-width="1" stroke-linejoin="round">
<path d="M57.3,254.5 63.4,251.4 74.7,251.9 78.2,253.6 79.1,264.9 83.4,266.7 90.4,266.7 93.9,271.0 100.9,271.0 107.0,276.3 109.6,267.6 120.0,267.6 123.5,271.0 133.1,271.0 138.4,277.1 142.7,272.8 147.9,271.9 152.7,266.7"/>
<path d="M52.0,221.3 54.2,229.2 56.4,236.2 57.7,242.3 54.7,244.9 48.5,247.5 45.9,250.1"/>
<path d="M161.9,217.0 154.9,223.1 150.6,227.4 151.4,237.9 154.9,242.3 161.9,248.4 172.3,251.9 181.7,253.6 185.4,252.8 182.8,244.9 185.4,240.6 189.8,239.7 198.5,245.8 205.5,251.0 213.3,257.1 217.7,264.1 221.5,279.5 222.4,292.6 225.0,305.7 229.4,318.7 234.6,329.2 238.1,337.9 243.3,343.1 249.4,347.5 253.8,341.4 257.3,343.1 256.4,351.0 259.0,351.9 262.5,345.8 267.7,339.7 274.7,333.6 275.6,327.4 279.1,325.7 285.2,328.3 287.8,332.7 293.9,333.6 302.6,332.7 311.3,334.4 320.0,333.6 328.8,334.4 335.7,333.6 342.7,335.3 342.7,343.1 350.6,349.2 359.3,343.1 368.0,338.8 376.7,341.4 384.3,340.2 392.7,343.6 404.6,341.9 408.7,340.2"/>
<path d="M161.9,217.0 170.4,217.0 181.9,216.2 189.8,217.9 196.8,221.4 202.9,225.8 209.8,224.0 216.8,225.8 223.8,226.6 232.5,221.4 243.0,221.4 249.1,216.2 250.8,209.2 250.8,202.2 246.4,197.9 239.5,195.2 235.1,193.5"/>
<path d="M202.9,225.8 209.8,232.7 216.8,239.7 225.5,244.9 234.2,251.0 243.0,249.3 251.7,252.8 260.4,258.0 261.3,264.1 271.7,254.5 269.1,250.2 267.4,242.3"/>
<path d="M250.8,200.5 260.4,205.7 269.1,208.3 277.8,207.4 286.6,205.7 292.7,202.2 298.8,190.0 301.4,176.9 303.1,168.2 307.5,162.1 316.2,157.8 324.9,157.8 332.8,161.2 342.3,163.0 351.5,162.1 355.0,167.3 361.1,168.2 364.1,164.9 373.6,161.5 379.7,159.7 379.7,152.8 381.4,147.6 391.0,139.7 393.6,131.9 395.3,125.0 404.0,117.2 404.9,110.2 409.2,105.9 407.5,96.3"/>
<path d="M405.7,110.2 412.7,112.8 420.5,111.1 429.2,114.6 437.8,118.0 449.1,118.9 454.3,123.3 459.5,128.5 460.4,135.4 466.5,139.7"/>
<path d="M393.6,131.9 392.7,145.8 402.3,156.2 407.5,158.8"/>
<path d="M390.7,143.8 397.7,150.8 404.7,156.0 409.9,162.1"/>
<path d="M267.4,242.3 277.0,241.4 290.0,239.7 300.5,241.4 310.1,244.1 316.2,248.4 324.9,247.6 332.8,244.1 342.3,245.8 349.8,247.6 362.9,253.7 367.2,258.0 368.1,265.0 378.5,270.2 385.5,273.7 393.4,277.2 397.7,270.2 403.0,264.1 410.8,258.0 415.2,254.5 423.9,257.1 432.6,256.3 441.3,257.1 449.2,260.6"/>
<path d="M355.0,167.3 354.1,175.2 351.5,180.4 353.3,189.1 354.1,197.0 361.1,198.7 373.3,200.5 385.5,197.9"/>
<path d="M356.8,209.2 365.5,204.0 373.3,200.5"/>
<path d="M428.2,195.2 420.4,204.0 415.2,198.7 406.4,201.3 397.7,210.1 404.7,214.4 406.4,221.4 397.7,219.7 389.0,220.5 382.0,224.9 380.3,230.1 365.5,233.6 356.8,242.3 349.8,247.6"/>
<path d="M452.7,273.7 445.7,277.2 437.0,278.9 428.2,280.7 419.5,282.4 412.6,285.9 415.2,291.1 414.7,296.3 411.3,306.4 407.9,314.8 406.3,326.7 407.9,340.2 411.3,352.0"/>
<path d="M256.4,351.0 255.5,355.3 259.0,359.7 264.2,364.9 267.7,367.6 273.0,362.3 280.8,360.6 289.5,364.9 293.9,368.4 300.9,371.9"/>
<path d="M366.2,257.7 372.3,264.7 381.7,269.9"/>
</g>
<g id="deco"><path d="M445.3,343.6 451.6,337.2 458.0,338.0 458.8,347.5 456.4,359.4 453.2,367.4 450.0,373.7 446.9,370.6 442.1,364.2 440.5,357.9 442.1,349.9Z" fill="none" stroke="#000" stroke-width="1.3" stroke-dasharray="3 1"/><path d="M433.4,360.2L437.3,357.9" stroke="#000" stroke-width="1.6" stroke-dasharray="3 1.5"/><path d="M467.5,344.4L468.3,356.3" stroke="#000" stroke-width="1.6" stroke-dasharray="3 1.5"/><path d="M462.7,378.5L456.4,388.0" stroke="#000" stroke-width="1.6" stroke-dasharray="3 1.5"/><path d="M444.5,410.2L438.9,421.4" stroke="#000" stroke-width="1.6" stroke-dasharray="3 1.5"/><path d="M330.2,446.7L335.0,453.1" stroke="#000" stroke-width="1.6" stroke-dasharray="3 1.5"/><path d="M378.6,453.1L382.6,446.7 389.7,444.4 390.5,449.1 386.5,451.5" fill="none" stroke="#000" stroke-width="1.5"/><circle cx="450.0" cy="373.7" r="1.4" fill="#000"/><circle cx="458.7" cy="372.9" r="1.4" fill="#000"/><circle cx="408.8" cy="392.8" r="1.4" fill="#000"/><circle cx="355.6" cy="442.0" r="1.4" fill="#000"/><circle cx="422.3" cy="455.5" r="1.4" fill="#000"/><rect x="466.2" y="371.3" width="53.3" height="80" fill="none" stroke="#000" stroke-width="2"/><path d="M470.2,384.3 l5,-3 l6,-1 l5,-3 l6,-1 l8,-4 l6,-1 l6,-2" fill="none" stroke="#000" stroke-width="1.2" stroke-dasharray="2 1"/><ellipse cx="475.2" cy="388.3" rx="4" ry="2.5" fill="none" stroke="#000" stroke-width="1.1"/><circle cx="474.2" cy="403.3" r="1" fill="#000"/><circle cx="492.2" cy="402.3" r="1.2" fill="#000"/><circle cx="502.2" cy="408.3" r="0.9" fill="#000"/><circle cx="478.2" cy="420.3" r="1" fill="#000"/><circle cx="496.2" cy="423.3" r="1.3" fill="#000"/><circle cx="502.2" cy="420.3" r="1" fill="#000"/><circle cx="508.2" cy="417.3" r="0.9" fill="#000"/><circle cx="493.2" cy="428.3" r="1" fill="#000"/><circle cx="488.2" cy="431.3" r="1.1" fill="#000"/><circle cx="483.2" cy="434.3" r="0.9" fill="#000"/><circle cx="486.2" cy="441.3" r="1" fill="#000"/><circle cx="490.2" cy="448.3" r="1.1" fill="#000"/><circle cx="510.2" cy="400.3" r="0.8" fill="#000"/><circle cx="514.2" cy="391.3" r="0.8" fill="#000"/><circle cx="506.2" cy="429.3" r="0.9" fill="#000"/><circle cx="499.2" cy="433.3" r="0.8" fill="#000"/></g>
</defs>
<g transform="translate(63.3,62.3)">
<g clip-path="url(#cn)"><g filter="url(#fa)"><rect x="-60" y="-60" width="652" height="586" fill="rgb(123,123,123)"/><ellipse cx="330" cy="277" rx="53" ry="40" fill="rgb(91,91,91)"/><ellipse cx="337" cy="356" rx="60" ry="26" fill="rgb(106,106,106)"/><ellipse cx="257" cy="178" rx="46" ry="33" fill="rgb(100,100,100)"/><ellipse cx="465" cy="80" rx="40" ry="35" fill="rgb(113,113,113)"/><ellipse cx="138" cy="86" rx="45" ry="30" fill="rgb(155,155,155)"/><ellipse cx="425" cy="316" rx="29" ry="40" fill="rgb(155,155,155)"/><ellipse cx="330" cy="212" rx="26" ry="40" fill="rgb(130,130,130)"/><ellipse cx="250" cy="330" rx="26" ry="40" fill="rgb(128,128,128)"/><ellipse cx="113" cy="225" rx="35" ry="25" fill="rgb(155,155,155)"/><ellipse cx="432" cy="137" rx="33" ry="26" fill="rgb(91,91,91)"/><ellipse cx="132" cy="190" rx="45" ry="18" fill="rgb(96,96,96)"/><ellipse cx="182" cy="290" rx="28" ry="24" fill="rgb(142,142,142)"/><ellipse cx="191" cy="231" rx="33" ry="20" fill="rgb(121,121,121)"/><ellipse cx="56" cy="212" rx="22" ry="26" fill="rgb(164,164,164)"/><ellipse cx="370" cy="231" rx="26" ry="20" fill="rgb(85,85,85)"/><ellipse cx="409" cy="244" rx="26" ry="20" fill="rgb(85,85,85)"/><ellipse cx="72" cy="165" rx="22" ry="20" fill="rgb(149,149,149)"/><ellipse cx="373" cy="189" rx="18" ry="17" fill="rgb(144,144,144)"/><ellipse cx="30" cy="133" rx="20" ry="14" fill="rgb(185,185,185)"/><ellipse cx="505" cy="100" rx="12" ry="18" fill="rgb(134,134,134)"/><ellipse cx="147" cy="99" rx="15" ry="11" fill="rgb(223,223,223)"/><ellipse cx="479" cy="103" rx="10" ry="16" fill="rgb(74,74,74)"/><ellipse cx="119" cy="287" rx="14" ry="11" fill="rgb(81,81,81)"/><ellipse cx="277" cy="175" rx="14" ry="11" fill="rgb(74,74,74)"/><ellipse cx="158" cy="254" rx="14" ry="10" fill="rgb(70,70,70)"/><ellipse cx="108" cy="92" rx="14" ry="9" fill="rgb(212,212,212)"/><ellipse cx="333" cy="414" rx="12" ry="10" fill="rgb(117,117,117)"/></g></g>
<use href="#prov"/><use href="#cnl"/><use href="#deco"/>
<rect x="1.75" y="1.75" width="528.0" height="461.5" fill="none" stroke="#000" stroke-width="3.5"/>
<path d="M81.4,3V7.5M196.6,3V7.5M294.4,3V7.5M390.3,3V7.5M499.5,3V7.5M114,462.0V457.5M282,462.0V457.5M448,462.0V457.5M3,110.8H7.5M3,244H7.5M3,375.9H7.5M528.5,20.1H524.0M528.5,148.4H524.0M528.5,268.3H524.0M528.5,390.4H524.0" stroke="#000" stroke-width="2.5"/>
<text x="14" y="52" font-size="31" font-weight="bold">(a)</text>
<text x="448.9" y="86.8" font-size="30" font-weight="bold" text-anchor="middle">1</text>
<text x="423.3" y="146.2" font-size="30" font-weight="bold" text-anchor="middle">2</text>
<text x="380.3" y="202.9" font-size="30" font-weight="bold" text-anchor="middle">3</text>
<text x="326.2" y="225.4" font-size="30" font-weight="bold" text-anchor="middle">4</text>
<text x="396.9" y="253.1" font-size="30" font-weight="bold" text-anchor="middle">5</text>
<text x="300.6" y="297.9" font-size="30" font-weight="bold" text-anchor="middle">6</text>
<text x="426.5" y="321.7" font-size="30" font-weight="bold" text-anchor="middle">7</text>
<text x="322.2" y="371.8" font-size="30" font-weight="bold" text-anchor="middle">8</text>
<text x="333.6" y="416.7" font-size="30" font-weight="bold" text-anchor="middle">8</text>
<text x="43.2" y="241.2" font-size="30" font-weight="bold" text-anchor="middle">9</text>
<text x="187.1" y="292.7" font-size="30" font-weight="bold" text-anchor="middle">9</text>
<text x="151.5" y="179.2" font-size="30" font-weight="bold" text-anchor="middle">10</text>
<text x="449.6" y="366.6" font-size="30" font-weight="bold" text-anchor="middle">7</text>
<text x="33" y="437" font-size="32" fill="#333">4.24</text>
</g>
<g transform="translate(61.4,536.5)">
<g clip-path="url(#cn)"><g filter="url(#fb)"><rect x="-60" y="-60" width="652" height="586" fill="rgb(125,125,125)"/><ellipse cx="450" cy="75" rx="50" ry="40" fill="rgb(113,113,113)"/><ellipse cx="52" cy="150" rx="40" ry="32" fill="rgb(240,240,240)"/><ellipse cx="160" cy="133" rx="50" ry="25" fill="rgb(155,155,155)"/><ellipse cx="110" cy="250" rx="45" ry="25" fill="rgb(96,96,96)"/><ellipse cx="330" cy="200" rx="26" ry="40" fill="rgb(142,142,142)"/><ellipse cx="345" cy="275" rx="40" ry="25" fill="rgb(96,96,96)"/><ellipse cx="425" cy="305" rx="25" ry="40" fill="rgb(144,144,144)"/><ellipse cx="257" cy="175" rx="33" ry="30" fill="rgb(81,81,81)"/><ellipse cx="300" cy="290" rx="30" ry="30" fill="rgb(138,138,138)"/><ellipse cx="160" cy="190" rx="40" ry="20" fill="rgb(210,210,210)"/><ellipse cx="390" cy="250" rx="30" ry="25" fill="rgb(81,81,81)"/><ellipse cx="190" cy="280" rx="28" ry="25" fill="rgb(138,138,138)"/><ellipse cx="258" cy="305" rx="28" ry="25" fill="rgb(91,91,91)"/><ellipse cx="237" cy="360" rx="25" ry="25" fill="rgb(138,138,138)"/><ellipse cx="130" cy="285" rx="40" ry="15" fill="rgb(87,87,87)"/><ellipse cx="95" cy="172" rx="25" ry="22" fill="rgb(236,236,236)"/><ellipse cx="295" cy="365" rx="30" ry="18" fill="rgb(106,106,106)"/><ellipse cx="375" cy="185" rx="20" ry="25" fill="rgb(149,149,149)"/><ellipse cx="125" cy="85" rx="25" ry="18" fill="rgb(176,176,176)"/><ellipse cx="185" cy="235" rx="28" ry="16" fill="rgb(202,202,202)"/><ellipse cx="428" cy="140" rx="20" ry="20" fill="rgb(74,74,74)"/><ellipse cx="45" cy="230" rx="18" ry="20" fill="rgb(138,138,138)"/><ellipse cx="415" cy="165" rx="20" ry="18" fill="rgb(117,117,117)"/><ellipse cx="330" cy="338" rx="40" ry="8" fill="rgb(191,191,191)"/><ellipse cx="475" cy="100" rx="13" ry="20" fill="rgb(91,91,91)"/><ellipse cx="105" cy="112" rx="20" ry="12" fill="rgb(230,230,230)"/><ellipse cx="238" cy="210" rx="12" ry="20" fill="rgb(106,106,106)"/><ellipse cx="415" cy="25" rx="15" ry="12" fill="rgb(170,170,170)"/><ellipse cx="143" cy="87" rx="12" ry="14" fill="rgb(223,223,223)"/><ellipse cx="240" cy="315" rx="10" ry="15" fill="rgb(74,74,74)"/><ellipse cx="138" cy="138" rx="12" ry="10" fill="rgb(106,106,106)"/><ellipse cx="285" cy="190" rx="10" ry="12" fill="rgb(70,70,70)"/><ellipse cx="335" cy="410" rx="12" ry="10" fill="rgb(117,117,117)"/><ellipse cx="203" cy="240" rx="7" ry="7" fill="rgb(234,234,234)"/><ellipse cx="258" cy="343" rx="6" ry="8" fill="rgb(223,223,223)"/><ellipse cx="170" cy="266" rx="8" ry="5" fill="rgb(223,223,223)"/><ellipse cx="330" cy="190" rx="6" ry="6" fill="rgb(202,202,202)"/><ellipse cx="424" cy="330" rx="6" ry="5" fill="rgb(212,212,212)"/><ellipse cx="203" cy="302" rx="5" ry="5" fill="rgb(223,223,223)"/><ellipse cx="247" cy="272" rx="5" ry="4" fill="rgb(223,223,223)"/></g></g>
<use href="#prov"/><use href="#cnl"/><use href="#deco"/>
<rect x="1.75" y="1.75" width="528.0" height="461.5" fill="none" stroke="#000" stroke-width="3.5"/>
<path d="M81.4,3V7.5M196.6,3V7.5M294.4,3V7.5M390.3,3V7.5M499.5,3V7.5M114,462.0V457.5M282,462.0V457.5M448,462.0V457.5M3,110.8H7.5M3,244H7.5M3,375.9H7.5M528.5,20.1H524.0M528.5,148.4H524.0M528.5,268.3H524.0M528.5,390.4H524.0" stroke="#000" stroke-width="2.5"/>
<text x="14" y="52" font-size="31" font-weight="bold">(b)</text>
<text x="33" y="437" font-size="32" fill="#333">4.61</text>
</g>
<g transform="translate(61.4,1011.8)">
<g clip-path="url(#cn)"><g clip-path="url(#ch)"><g filter="url(#fc)"><rect x="-60" y="-60" width="652" height="586" fill="rgb(130,130,130)"/><ellipse cx="465" cy="100" rx="50" ry="50" fill="rgb(96,96,96)"/><ellipse cx="340" cy="265" rx="70" ry="30" fill="rgb(96,96,96)"/><ellipse cx="330" cy="320" rx="50" ry="30" fill="rgb(138,138,138)"/><ellipse cx="160" cy="260" rx="50" ry="30" fill="rgb(138,138,138)"/><ellipse cx="390" cy="220" rx="30" ry="45" fill="rgb(91,91,91)"/><ellipse cx="150" cy="140" rx="40" ry="30" fill="rgb(123,123,123)"/><ellipse cx="265" cy="180" rx="40" ry="30" fill="rgb(91,91,91)"/><ellipse cx="60" cy="150" rx="25" ry="25" fill="rgb(166,166,166)"/><ellipse cx="240" cy="360" rx="25" ry="25" fill="rgb(138,138,138)"/><ellipse cx="430" cy="310" rx="20" ry="30" fill="rgb(149,149,149)"/><ellipse cx="48" cy="222" rx="20" ry="26" fill="rgb(251,251,251)"/><ellipse cx="105" cy="165" rx="25" ry="20" fill="rgb(96,96,96)"/><ellipse cx="283" cy="190" rx="18" ry="18" fill="rgb(74,74,74)"/><ellipse cx="340" cy="370" rx="25" ry="12" fill="rgb(155,155,155)"/><ellipse cx="110" cy="95" rx="15" ry="15" fill="rgb(234,234,234)"/><ellipse cx="198" cy="292" rx="13" ry="15" fill="rgb(223,223,223)"/><ellipse cx="62" cy="200" rx="15" ry="12" fill="rgb(212,212,212)"/><ellipse cx="160" cy="250" rx="15" ry="12" fill="rgb(106,106,106)"/><ellipse cx="410" cy="158" rx="13" ry="13" fill="rgb(74,74,74)"/><ellipse cx="18" cy="143" rx="9" ry="15" fill="rgb(223,223,223)"/><ellipse cx="87" cy="278" rx="10" ry="13" fill="rgb(223,223,223)"/><ellipse cx="247" cy="224" rx="10" ry="13" fill="rgb(234,234,234)"/><ellipse cx="335" cy="410" rx="12" ry="10" fill="rgb(85,85,85)"/><ellipse cx="310" cy="345" rx="10" ry="10" fill="rgb(85,85,85)"/><ellipse cx="180" cy="145" rx="10" ry="8" fill="rgb(202,202,202)"/><ellipse cx="152" cy="80" rx="6" ry="8" fill="rgb(212,212,212)"/><ellipse cx="395" cy="325" rx="5" ry="7" fill="rgb(212,212,212)"/><ellipse cx="110" cy="117" rx="6" ry="5" fill="rgb(212,212,212)"/></g></g></g>
<use href="#prov"/><use href="#cnl"/><use href="#deco"/>
<rect x="1.75" y="1.75" width="528.0" height="461.5" fill="none" stroke="#000" stroke-width="3.5"/>
<path d="M81.4,3V7.5M196.6,3V7.5M294.4,3V7.5M390.3,3V7.5M499.5,3V7.5M114,462.0V457.5M282,462.0V457.5M448,462.0V457.5M3,110.8H7.5M3,244H7.5M3,375.9H7.5M528.5,20.1H524.0M528.5,148.4H524.0M528.5,268.3H524.0M528.5,390.4H524.0" stroke="#000" stroke-width="2.5"/>
<text x="14" y="52" font-size="31" font-weight="bold">(c)</text>
<text x="33" y="437" font-size="32" fill="#333">4.39</text>
</g>
<g transform="translate(63.3,1484.1)">
<g clip-path="url(#cn)"><g filter="url(#fd)"><rect x="-60" y="-60" width="652" height="586" fill="rgb(128,128,128)"/><ellipse cx="140" cy="230" rx="60" ry="40" fill="rgb(151,151,151)"/><ellipse cx="465" cy="90" rx="45" ry="45" fill="rgb(102,102,102)"/><ellipse cx="120" cy="140" rx="40" ry="30" fill="rgb(85,85,85)"/><ellipse cx="330" cy="265" rx="40" ry="25" fill="rgb(85,85,85)"/><ellipse cx="390" cy="230" rx="30" ry="30" fill="rgb(79,79,79)"/><ellipse cx="330" cy="360" rx="40" ry="20" fill="rgb(144,144,144)"/><ellipse cx="375" cy="310" rx="35" ry="20" fill="rgb(159,159,159)"/><ellipse cx="240" cy="360" rx="25" ry="25" fill="rgb(144,144,144)"/><ellipse cx="250" cy="165" rx="30" ry="20" fill="rgb(102,102,102)"/><ellipse cx="280" cy="180" rx="22" ry="25" fill="rgb(74,74,74)"/><ellipse cx="150" cy="285" rx="20" ry="20" fill="rgb(96,96,96)"/><ellipse cx="425" cy="320" rx="15" ry="25" fill="rgb(138,138,138)"/><ellipse cx="82" cy="186" rx="25" ry="14" fill="rgb(244,244,244)"/><ellipse cx="115" cy="230" rx="28" ry="12" fill="rgb(230,230,230)"/><ellipse cx="410" cy="140" rx="15" ry="22" fill="rgb(74,74,74)"/><ellipse cx="43" cy="220" rx="17" ry="18" fill="rgb(240,240,240)"/><ellipse cx="30" cy="138" rx="15" ry="20" fill="rgb(230,230,230)"/><ellipse cx="60" cy="170" rx="20" ry="12" fill="rgb(234,234,234)"/><ellipse cx="450" cy="80" rx="15" ry="15" fill="rgb(85,85,85)"/><ellipse cx="105" cy="93" rx="16" ry="12" fill="rgb(234,234,234)"/><ellipse cx="190" cy="205" rx="15" ry="12" fill="rgb(74,74,74)"/><ellipse cx="315" cy="165" rx="13" ry="13" fill="rgb(70,70,70)"/><ellipse cx="135" cy="80" rx="13" ry="12" fill="rgb(230,230,230)"/><ellipse cx="335" cy="410" rx="12" ry="10" fill="rgb(106,106,106)"/><ellipse cx="205" cy="193" rx="12" ry="9" fill="rgb(223,223,223)"/><ellipse cx="118" cy="192" rx="13" ry="8" fill="rgb(223,223,223)"/><ellipse cx="415" cy="22" rx="9" ry="7" fill="rgb(202,202,202)"/><ellipse cx="356" cy="313" rx="6" ry="6" fill="rgb(230,230,230)"/><ellipse cx="245" cy="278" rx="7" ry="5" fill="rgb(230,230,230)"/><ellipse cx="163" cy="300" rx="5" ry="5" fill="rgb(223,223,223)"/></g></g>
<use href="#prov"/><use href="#cnl"/><use href="#deco"/>
<rect x="1.75" y="1.75" width="528.0" height="461.5" fill="none" stroke="#000" stroke-width="3.5"/>
<path d="M81.4,3V7.5M196.6,3V7.5M294.4,3V7.5M390.3,3V7.5M499.5,3V7.5M114,462.0V457.5M282,462.0V457.5M448,462.0V457.5M3,110.8H7.5M3,244H7.5M3,375.9H7.5M528.5,20.1H524.0M528.5,148.4H524.0M528.5,268.3H524.0M528.5,390.4H524.0" stroke="#000" stroke-width="2.5"/>
<text x="14" y="52" font-size="31" font-weight="bold">(d)</text>
<text x="33" y="437" font-size="32" fill="#333">4.42</text>
</g>
<g transform="translate(603.0,63.5)">
<g clip-path="url(#cn)"><g filter="url(#fe)"><rect x="-60" y="-60" width="652" height="586" fill="rgb(121,121,121)"/><ellipse cx="460" cy="75" rx="45" ry="40" fill="rgb(102,102,102)"/><ellipse cx="300" cy="265" rx="60" ry="30" fill="rgb(100,100,100)"/><ellipse cx="138" cy="182" rx="75" ry="18" fill="rgb(100,100,100)"/><ellipse cx="90" cy="230" rx="45" ry="25" fill="rgb(123,123,123)"/><ellipse cx="130" cy="95" rx="40" ry="28" fill="rgb(181,181,181)"/><ellipse cx="240" cy="210" rx="35" ry="30" fill="rgb(96,96,96)"/><ellipse cx="95" cy="145" rx="50" ry="20" fill="rgb(144,144,144)"/><ellipse cx="385" cy="200" rx="26" ry="30" fill="rgb(106,106,106)"/><ellipse cx="330" cy="200" rx="25" ry="30" fill="rgb(134,134,134)"/><ellipse cx="310" cy="362" rx="35" ry="15" fill="rgb(106,106,106)"/><ellipse cx="180" cy="230" rx="27" ry="17" fill="rgb(128,128,128)"/><ellipse cx="380" cy="350" rx="30" ry="15" fill="rgb(134,134,134)"/><ellipse cx="185" cy="198" rx="22" ry="18" fill="rgb(191,191,191)"/><ellipse cx="425" cy="255" rx="22" ry="18" fill="rgb(74,74,74)"/><ellipse cx="30" cy="130" rx="22" ry="16" fill="rgb(223,223,223)"/><ellipse cx="409" cy="330" rx="27" ry="13" fill="rgb(208,208,208)"/><ellipse cx="45" cy="240" rx="20" ry="16" fill="rgb(212,212,212)"/><ellipse cx="148" cy="104" rx="18" ry="17" fill="rgb(240,240,240)"/><ellipse cx="405" cy="163" rx="18" ry="16" fill="rgb(64,64,64)"/><ellipse cx="121" cy="287" rx="16" ry="15" fill="rgb(74,74,74)"/><ellipse cx="336" cy="288" rx="20" ry="12" fill="rgb(64,64,64)"/><ellipse cx="303" cy="333" rx="27" ry="8" fill="rgb(223,223,223)"/><ellipse cx="135" cy="182" rx="16" ry="13" fill="rgb(42,42,42)"/><ellipse cx="110" cy="92" rx="14" ry="13" fill="rgb(240,240,240)"/><ellipse cx="237" cy="370" rx="14" ry="13" fill="rgb(106,106,106)"/><ellipse cx="360" cy="363" rx="18" ry="10" fill="rgb(74,74,74)"/><ellipse cx="277" cy="290" rx="13" ry="13" fill="rgb(74,74,74)"/><ellipse cx="185" cy="300" rx="13" ry="10" fill="rgb(234,234,234)"/><ellipse cx="261" cy="267" rx="11" ry="10" fill="rgb(244,244,244)"/><ellipse cx="478" cy="100" rx="8" ry="11" fill="rgb(64,64,64)"/><ellipse cx="135" cy="226" rx="8" ry="10" fill="rgb(234,234,234)"/><ellipse cx="312" cy="156" rx="10" ry="8" fill="rgb(42,42,42)"/><ellipse cx="273" cy="174" rx="7" ry="10" fill="rgb(59,59,59)"/><ellipse cx="513" cy="70" rx="4" ry="17" fill="rgb(223,223,223)"/><ellipse cx="224" cy="327" rx="6" ry="11" fill="rgb(234,234,234)"/><ellipse cx="230" cy="282" rx="8" ry="8" fill="rgb(212,212,212)"/><ellipse cx="450" cy="134" rx="8" ry="8" fill="rgb(42,42,42)"/><ellipse cx="219" cy="256" rx="8" ry="7" fill="rgb(244,244,244)"/><ellipse cx="244" cy="182" rx="7" ry="8" fill="rgb(234,234,234)"/><ellipse cx="412" cy="120" rx="8" ry="7" fill="rgb(53,53,53)"/><ellipse cx="417" cy="21" rx="8" ry="6" fill="rgb(234,234,234)"/></g></g>
<use href="#prov"/><use href="#cnl"/><use href="#deco"/>
<rect x="1.75" y="1.75" width="528.0" height="461.5" fill="none" stroke="#000" stroke-width="3.5"/>
<path d="M81.4,3V7.5M196.6,3V7.5M294.4,3V7.5M390.3,3V7.5M499.5,3V7.5M114,462.0V457.5M282,462.0V457.5M448,462.0V457.5M3,110.8H7.5M3,244H7.5M3,375.9H7.5M528.5,20.1H524.0M528.5,148.4H524.0M528.5,268.3H524.0M528.5,390.4H524.0" stroke="#000" stroke-width="2.5"/>
<text x="14" y="52" font-size="31" font-weight="bold">(e)</text>
<text x="24" y="437" font-size="32" fill="#333">-6.29</text>
</g>
<g transform="translate(603.5,537.4)">
<g clip-path="url(#cn)"><g filter="url(#ff)"><rect x="-60" y="-60" width="652" height="586" fill="rgb(125,125,125)"/><ellipse cx="62" cy="160" rx="52" ry="48" fill="rgb(255,255,255)"/><ellipse cx="460" cy="80" rx="45" ry="40" fill="rgb(113,113,113)"/><ellipse cx="110" cy="255" rx="45" ry="25" fill="rgb(102,102,102)"/><ellipse cx="140" cy="135" rx="50" ry="20" fill="rgb(128,128,128)"/><ellipse cx="125" cy="95" rx="35" ry="25" fill="rgb(249,249,249)"/><ellipse cx="330" cy="200" rx="25" ry="35" fill="rgb(138,138,138)"/><ellipse cx="330" cy="270" rx="40" ry="20" fill="rgb(96,96,96)"/><ellipse cx="150" cy="85" rx="35" ry="20" fill="rgb(191,191,191)"/><ellipse cx="335" cy="370" rx="45" ry="15" fill="rgb(113,113,113)"/><ellipse cx="190" cy="205" rx="30" ry="22" fill="rgb(236,236,236)"/><ellipse cx="265" cy="180" rx="30" ry="22" fill="rgb(70,70,70)"/><ellipse cx="402" cy="255" rx="30" ry="22" fill="rgb(85,85,85)"/><ellipse cx="385" cy="225" rx="25" ry="25" fill="rgb(128,128,128)"/><ellipse cx="150" cy="185" rx="30" ry="20" fill="rgb(240,240,240)"/><ellipse cx="390" cy="325" rx="30" ry="20" fill="rgb(202,202,202)"/><ellipse cx="100" cy="195" rx="25" ry="22" fill="rgb(251,251,251)"/><ellipse cx="222" cy="230" rx="22" ry="25" fill="rgb(244,244,244)"/><ellipse cx="300" cy="327" rx="30" ry="18" fill="rgb(208,208,208)"/><ellipse cx="45" cy="235" rx="20" ry="25" fill="rgb(149,149,149)"/><ellipse cx="190" cy="270" rx="20" ry="25" fill="rgb(170,170,170)"/><ellipse cx="245" cy="272" rx="28" ry="16" fill="rgb(244,244,244)"/><ellipse cx="235" cy="360" rx="20" ry="20" fill="rgb(170,170,170)"/><ellipse cx="332" cy="340" rx="25" ry="15" fill="rgb(223,223,223)"/><ellipse cx="430" cy="140" rx="18" ry="17" fill="rgb(53,53,53)"/><ellipse cx="412" cy="32" rx="14" ry="18" fill="rgb(234,234,234)"/><ellipse cx="292" cy="190" rx="15" ry="15" fill="rgb(59,59,59)"/><ellipse cx="427" cy="330" rx="12" ry="18" fill="rgb(230,230,230)"/><ellipse cx="468" cy="105" rx="15" ry="13" fill="rgb(74,74,74)"/><ellipse cx="372" cy="176" rx="13" ry="14" fill="rgb(187,187,187)"/><ellipse cx="160" cy="60" rx="15" ry="12" fill="rgb(138,138,138)"/><ellipse cx="506" cy="62" rx="10" ry="16" fill="rgb(212,212,212)"/><ellipse cx="240" cy="325" rx="10" ry="15" fill="rgb(85,85,85)"/><ellipse cx="336" cy="410" rx="12" ry="10" fill="rgb(117,117,117)"/><ellipse cx="140" cy="140" rx="14" ry="8" fill="rgb(96,96,96)"/><ellipse cx="158" cy="300" rx="10" ry="8" fill="rgb(74,74,74)"/><ellipse cx="258" cy="347" rx="7" ry="9" fill="rgb(244,244,244)"/><ellipse cx="206" cy="302" rx="7" ry="6" fill="rgb(244,244,244)"/><ellipse cx="345" cy="275" rx="8" ry="5" fill="rgb(74,74,74)"/></g></g>
<use href="#prov"/><use href="#cnl"/><use href="#deco"/>
<rect x="1.75" y="1.75" width="528.0" height="461.5" fill="none" stroke="#000" stroke-width="3.5"/>
<path d="M81.4,3V7.5M196.6,3V7.5M294.4,3V7.5M390.3,3V7.5M499.5,3V7.5M114,462.0V457.5M282,462.0V457.5M448,462.0V457.5M3,110.8H7.5M3,244H7.5M3,375.9H7.5M528.5,20.1H524.0M528.5,148.4H524.0M528.5,268.3H524.0M528.5,390.4H524.0" stroke="#000" stroke-width="2.5"/>
<text x="14" y="52" font-size="31" font-weight="bold">(f)</text>
<text x="24" y="437" font-size="32" fill="#333">-7.13</text>
</g>
<g transform="translate(605.4,1011.0)">
<g clip-path="url(#cn)"><g clip-path="url(#ch)"><g filter="url(#fg)"><rect x="-60" y="-60" width="652" height="586" fill="rgb(123,123,123)"/><ellipse cx="340" cy="265" rx="70" ry="30" fill="rgb(96,96,96)"/><ellipse cx="465" cy="100" rx="45" ry="45" fill="rgb(96,96,96)"/><ellipse cx="130" cy="185" rx="50" ry="40" fill="rgb(96,96,96)"/><ellipse cx="160" cy="265" rx="50" ry="30" fill="rgb(155,155,155)"/><ellipse cx="395" cy="210" rx="30" ry="25" fill="rgb(117,117,117)"/><ellipse cx="240" cy="360" rx="25" ry="25" fill="rgb(138,138,138)"/><ellipse cx="50" cy="222" rx="23" ry="27" fill="rgb(255,255,255)"/><ellipse cx="125" cy="90" rx="30" ry="18" fill="rgb(240,240,240)"/><ellipse cx="430" cy="300" rx="18" ry="30" fill="rgb(208,208,208)"/><ellipse cx="425" cy="150" rx="20" ry="20" fill="rgb(42,42,42)"/><ellipse cx="180" cy="150" rx="17" ry="20" fill="rgb(249,249,249)"/><ellipse cx="310" cy="188" rx="20" ry="17" fill="rgb(42,42,42)"/><ellipse cx="500" cy="88" rx="13" ry="22" fill="rgb(219,219,219)"/><ellipse cx="93" cy="275" rx="18" ry="15" fill="rgb(234,234,234)"/><ellipse cx="275" cy="325" rx="13" ry="18" fill="rgb(208,208,208)"/><ellipse cx="198" cy="293" rx="13" ry="15" fill="rgb(234,234,234)"/><ellipse cx="333" cy="265" rx="15" ry="13" fill="rgb(70,70,70)"/><ellipse cx="247" cy="223" rx="12" ry="16" fill="rgb(244,244,244)"/><ellipse cx="277" cy="170" rx="13" ry="13" fill="rgb(64,64,64)"/><ellipse cx="313" cy="355" rx="12" ry="12" fill="rgb(96,96,96)"/><ellipse cx="455" cy="65" rx="13" ry="10" fill="rgb(155,155,155)"/><ellipse cx="335" cy="410" rx="12" ry="10" fill="rgb(96,96,96)"/><ellipse cx="52" cy="125" rx="13" ry="9" fill="rgb(223,223,223)"/><ellipse cx="330" cy="360" rx="13" ry="9" fill="rgb(212,212,212)"/><ellipse cx="112" cy="90" rx="9" ry="12" fill="rgb(251,251,251)"/><ellipse cx="70" cy="205" rx="10" ry="10" fill="rgb(223,223,223)"/><ellipse cx="280" cy="208" rx="10" ry="8" fill="rgb(64,64,64)"/><ellipse cx="365" cy="130" rx="10" ry="8" fill="rgb(212,212,212)"/><ellipse cx="360" cy="308" rx="10" ry="8" fill="rgb(208,208,208)"/><ellipse cx="120" cy="255" rx="10" ry="7" fill="rgb(212,212,212)"/><ellipse cx="13" cy="135" rx="5" ry="10" fill="rgb(234,234,234)"/><ellipse cx="436" cy="330" rx="6" ry="8" fill="rgb(234,234,234)"/></g></g></g>
<use href="#prov"/><use href="#cnl"/><use href="#deco"/>
<rect x="1.75" y="1.75" width="528.0" height="461.5" fill="none" stroke="#000" stroke-width="3.5"/>
<path d="M81.4,3V7.5M196.6,3V7.5M294.4,3V7.5M390.3,3V7.5M499.5,3V7.5M114,462.0V457.5M282,462.0V457.5M448,462.0V457.5M3,110.8H7.5M3,244H7.5M3,375.9H7.5M528.5,20.1H524.0M528.5,148.4H524.0M528.5,268.3H524.0M528.5,390.4H524.0" stroke="#000" stroke-width="2.5"/>
<text x="14" y="52" font-size="31" font-weight="bold">(g)</text>
<text x="24" y="437" font-size="32" fill="#333">-6.47</text>
</g>
<g transform="translate(607.0,1484.0)">
<g clip-path="url(#cn)"><g filter="url(#fh)"><rect x="-60" y="-60" width="652" height="586" fill="rgb(128,128,128)"/><ellipse cx="470" cy="70" rx="40" ry="40" fill="rgb(106,106,106)"/><ellipse cx="130" cy="140" rx="50" ry="30" fill="rgb(96,96,96)"/><ellipse cx="260" cy="180" rx="45" ry="30" fill="rgb(85,85,85)"/><ellipse cx="325" cy="250" rx="45" ry="25" fill="rgb(81,81,81)"/><ellipse cx="395" cy="235" rx="38" ry="28" fill="rgb(74,74,74)"/><ellipse cx="115" cy="270" rx="50" ry="20" fill="rgb(128,128,128)"/><ellipse cx="410" cy="135" rx="25" ry="35" fill="rgb(64,64,64)"/><ellipse cx="390" cy="315" rx="40" ry="18" fill="rgb(219,219,219)"/><ellipse cx="130" cy="225" rx="35" ry="20" fill="rgb(253,253,253)"/><ellipse cx="240" cy="360" rx="25" ry="25" fill="rgb(138,138,138)"/><ellipse cx="240" cy="270" rx="40" ry="15" fill="rgb(234,234,234)"/><ellipse cx="350" cy="355" rx="40" ry="15" fill="rgb(155,155,155)"/><ellipse cx="118" cy="90" rx="28" ry="20" fill="rgb(249,249,249)"/><ellipse cx="200" cy="205" rx="25" ry="20" fill="rgb(106,106,106)"/><ellipse cx="80" cy="170" rx="30" ry="15" fill="rgb(249,249,249)"/><ellipse cx="37" cy="138" rx="20" ry="20" fill="rgb(251,251,251)"/><ellipse cx="375" cy="145" rx="20" ry="20" fill="rgb(155,155,155)"/><ellipse cx="45" cy="225" rx="18" ry="20" fill="rgb(251,251,251)"/><ellipse cx="120" cy="185" rx="25" ry="13" fill="rgb(251,251,251)"/><ellipse cx="425" cy="300" rx="15" ry="20" fill="rgb(149,149,149)"/><ellipse cx="280" cy="190" rx="22" ry="12" fill="rgb(42,42,42)"/><ellipse cx="265" cy="275" rx="15" ry="15" fill="rgb(234,234,234)"/><ellipse cx="160" cy="185" rx="13" ry="15" fill="rgb(249,249,249)"/><ellipse cx="485" cy="90" rx="13" ry="15" fill="rgb(212,212,212)"/><ellipse cx="318" cy="162" rx="13" ry="13" fill="rgb(38,38,38)"/><ellipse cx="423" cy="155" rx="12" ry="13" fill="rgb(42,42,42)"/><ellipse cx="205" cy="195" rx="12" ry="10" fill="rgb(234,234,234)"/><ellipse cx="155" cy="302" rx="15" ry="8" fill="rgb(234,234,234)"/><ellipse cx="335" cy="410" rx="12" ry="10" fill="rgb(106,106,106)"/><ellipse cx="462" cy="95" rx="9" ry="10" fill="rgb(42,42,42)"/><ellipse cx="418" cy="23" rx="11" ry="8" fill="rgb(244,244,244)"/><ellipse cx="280" cy="303" rx="10" ry="8" fill="rgb(244,244,244)"/><ellipse cx="423" cy="330" rx="10" ry="8" fill="rgb(240,240,240)"/><ellipse cx="100" cy="153" rx="10" ry="8" fill="rgb(64,64,64)"/><ellipse cx="292" cy="240" rx="8" ry="10" fill="rgb(49,49,49)"/><ellipse cx="360" cy="312" rx="9" ry="8" fill="rgb(244,244,244)"/><ellipse cx="276" cy="322" rx="7" ry="10" fill="rgb(240,240,240)"/><ellipse cx="378" cy="250" rx="9" ry="7" fill="rgb(53,53,53)"/><ellipse cx="150" cy="160" rx="8" ry="6" fill="rgb(64,64,64)"/><ellipse cx="410" cy="230" rx="8" ry="6" fill="rgb(49,49,49)"/></g></g>
<use href="#prov"/><use href="#cnl"/><use href="#deco"/>
<rect x="1.75" y="1.75" width="528.0" height="461.5" fill="none" stroke="#000" stroke-width="3.5"/>
<path d="M81.4,3V7.5M196.6,3V7.5M294.4,3V7.5M390.3,3V7.5M499.5,3V7.5M114,462.0V457.5M282,462.0V457.5M448,462.0V457.5M3,110.8H7.5M3,244H7.5M3,375.9H7.5M528.5,20.1H524.0M528.5,148.4H524.0M528.5,268.3H524.0M528.5,390.4H524.0" stroke="#000" stroke-width="2.5"/>
<text x="14" y="52" font-size="31" font-weight="bold">(h)</text>
<text x="24" y="437" font-size="32" fill="#333">-6.65</text>
</g>
<g transform="translate(1148.6,63.0)">
<g clip-path="url(#cn)"><g filter="url(#fi)"><rect x="-60" y="-60" width="652" height="586" fill="rgb(121,121,121)"/><ellipse cx="460" cy="90" rx="45" ry="45" fill="rgb(138,138,138)"/><ellipse cx="290" cy="290" rx="50" ry="40" fill="rgb(159,159,159)"/><ellipse cx="180" cy="255" rx="55" ry="35" fill="rgb(181,181,181)"/><ellipse cx="120" cy="100" rx="45" ry="30" fill="rgb(85,85,85)"/><ellipse cx="95" cy="210" rx="50" ry="25" fill="rgb(96,96,96)"/><ellipse cx="335" cy="200" rx="30" ry="35" fill="rgb(96,96,96)"/><ellipse cx="75" cy="160" rx="35" ry="22" fill="rgb(21,21,21)"/><ellipse cx="390" cy="222" rx="30" ry="25" fill="rgb(208,208,208)"/><ellipse cx="235" cy="355" rx="25" ry="25" fill="rgb(159,159,159)"/><ellipse cx="190" cy="165" rx="40" ry="15" fill="rgb(159,159,159)"/><ellipse cx="405" cy="255" rx="30" ry="20" fill="rgb(117,117,117)"/><ellipse cx="140" cy="185" rx="30" ry="18" fill="rgb(28,28,28)"/><ellipse cx="180" cy="290" rx="28" ry="18" fill="rgb(106,106,106)"/><ellipse cx="400" cy="155" rx="25" ry="20" fill="rgb(138,138,138)"/><ellipse cx="280" cy="225" rx="18" ry="25" fill="rgb(181,181,181)"/><ellipse cx="170" cy="255" rx="25" ry="16" fill="rgb(249,249,249)"/><ellipse cx="347" cy="362" rx="20" ry="20" fill="rgb(53,53,53)"/><ellipse cx="400" cy="303" rx="32" ry="12" fill="rgb(42,42,42)"/><ellipse cx="430" cy="330" rx="15" ry="25" fill="rgb(106,106,106)"/><ellipse cx="52" cy="228" rx="15" ry="24" fill="rgb(38,38,38)"/><ellipse cx="280" cy="340" rx="22" ry="15" fill="rgb(223,223,223)"/><ellipse cx="28" cy="140" rx="14" ry="22" fill="rgb(42,42,42)"/><ellipse cx="265" cy="155" rx="25" ry="12" fill="rgb(53,53,53)"/><ellipse cx="390" cy="350" rx="20" ry="15" fill="rgb(128,128,128)"/><ellipse cx="208" cy="185" rx="18" ry="15" fill="rgb(42,42,42)"/><ellipse cx="123" cy="288" rx="22" ry="10" fill="rgb(191,191,191)"/><ellipse cx="425" cy="210" rx="12" ry="12" fill="rgb(159,159,159)"/><ellipse cx="411" cy="32" rx="11" ry="13" fill="rgb(234,234,234)"/><ellipse cx="225" cy="265" rx="10" ry="12" fill="rgb(223,223,223)"/><ellipse cx="335" cy="410" rx="12" ry="10" fill="rgb(113,113,113)"/><ellipse cx="487" cy="81" rx="13" ry="8" fill="rgb(223,223,223)"/><ellipse cx="128" cy="110" rx="10" ry="10" fill="rgb(42,42,42)"/><ellipse cx="247" cy="178" rx="10" ry="10" fill="rgb(212,212,212)"/><ellipse cx="380" cy="120" rx="10" ry="10" fill="rgb(64,64,64)"/><ellipse cx="163" cy="78" rx="6" ry="12" fill="rgb(42,42,42)"/><ellipse cx="475" cy="112" rx="12" ry="6" fill="rgb(74,74,74)"/><ellipse cx="443" cy="42" rx="7" ry="10" fill="rgb(234,234,234)"/><ellipse cx="258" cy="215" rx="7" ry="9" fill="rgb(212,212,212)"/><ellipse cx="385" cy="152" rx="10" ry="6" fill="rgb(202,202,202)"/><ellipse cx="290" cy="280" rx="7" ry="8" fill="rgb(234,234,234)"/><ellipse cx="338" cy="190" rx="7" ry="7" fill="rgb(64,64,64)"/><ellipse cx="400" cy="210" rx="7" ry="7" fill="rgb(234,234,234)"/></g></g>
<use href="#prov"/><use href="#cnl"/><use href="#deco"/>
<rect x="1.75" y="1.75" width="528.0" height="461.5" fill="none" stroke="#000" stroke-width="3.5"/>
<path d="M81.4,3V7.5M196.6,3V7.5M294.4,3V7.5M390.3,3V7.5M499.5,3V7.5M114,462.0V457.5M282,462.0V457.5M448,462.0V457.5M3,110.8H7.5M3,244H7.5M3,375.9H7.5M528.5,20.1H524.0M528.5,148.4H524.0M528.5,268.3H524.0M528.5,390.4H524.0" stroke="#000" stroke-width="2.5"/>
<text x="14" y="52" font-size="31" font-weight="bold">(i)</text>
<text x="24" y="437" font-size="32" fill="#333">-1.50</text>
</g>
<g transform="translate(1148.7,535.9)">
<g clip-path="url(#cn)"><g filter="url(#fj)"><rect x="-60" y="-60" width="652" height="586" fill="rgb(130,130,130)"/><ellipse cx="120" cy="130" rx="65" ry="40" fill="rgb(106,106,106)"/><ellipse cx="465" cy="115" rx="40" ry="30" fill="rgb(96,96,96)"/><ellipse cx="330" cy="200" rx="25" ry="40" fill="rgb(113,113,113)"/><ellipse cx="142" cy="237" rx="30" ry="27" fill="rgb(240,240,240)"/><ellipse cx="425" cy="300" rx="20" ry="40" fill="rgb(155,155,155)"/><ellipse cx="80" cy="205" rx="27" ry="20" fill="rgb(212,212,212)"/><ellipse cx="45" cy="240" rx="20" ry="25" fill="rgb(149,149,149)"/><ellipse cx="225" cy="283" rx="25" ry="20" fill="rgb(230,230,230)"/><ellipse cx="355" cy="145" rx="25" ry="20" fill="rgb(96,96,96)"/><ellipse cx="355" cy="335" rx="25" ry="18" fill="rgb(74,74,74)"/><ellipse cx="410" cy="140" rx="20" ry="20" fill="rgb(106,106,106)"/><ellipse cx="400" cy="305" rx="30" ry="12" fill="rgb(53,53,53)"/><ellipse cx="390" cy="355" rx="30" ry="12" fill="rgb(113,113,113)"/><ellipse cx="377" cy="222" rx="20" ry="16" fill="rgb(230,230,230)"/><ellipse cx="85" cy="265" rx="20" ry="13" fill="rgb(212,212,212)"/><ellipse cx="257" cy="237" rx="20" ry="13" fill="rgb(230,230,230)"/><ellipse cx="436" cy="52" rx="10" ry="25" fill="rgb(170,170,170)"/><ellipse cx="238" cy="195" rx="14" ry="16" fill="rgb(234,234,234)"/><ellipse cx="280" cy="335" rx="17" ry="13" fill="rgb(223,223,223)"/><ellipse cx="135" cy="287" rx="22" ry="10" fill="rgb(230,230,230)"/><ellipse cx="295" cy="290" rx="9" ry="22" fill="rgb(223,223,223)"/><ellipse cx="283" cy="195" rx="15" ry="10" fill="rgb(212,212,212)"/><ellipse cx="177" cy="175" rx="13" ry="10" fill="rgb(202,202,202)"/><ellipse cx="155" cy="240" rx="10" ry="12" fill="rgb(251,251,251)"/><ellipse cx="335" cy="410" rx="12" ry="10" fill="rgb(117,117,117)"/><ellipse cx="198" cy="122" rx="13" ry="9" fill="rgb(212,212,212)"/><ellipse cx="390" cy="165" rx="8" ry="13" fill="rgb(202,202,202)"/><ellipse cx="236" cy="368" rx="9" ry="9" fill="rgb(234,234,234)"/><ellipse cx="220" cy="285" rx="8" ry="10" fill="rgb(240,240,240)"/><ellipse cx="228" cy="343" rx="9" ry="8" fill="rgb(74,74,74)"/><ellipse cx="180" cy="290" rx="10" ry="7" fill="rgb(223,223,223)"/><ellipse cx="490" cy="82" rx="7" ry="8" fill="rgb(223,223,223)"/><ellipse cx="455" cy="130" rx="7" ry="7" fill="rgb(64,64,64)"/><ellipse cx="53" cy="175" rx="6" ry="6" fill="rgb(64,64,64)"/><ellipse cx="90" cy="172" rx="6" ry="6" fill="rgb(64,64,64)"/><ellipse cx="430" cy="330" rx="7" ry="5" fill="rgb(202,202,202)"/><ellipse cx="98" cy="82" rx="8" ry="4" fill="rgb(53,53,53)"/><ellipse cx="343" cy="345" rx="5" ry="5" fill="rgb(42,42,42)"/></g></g>
<use href="#prov"/><use href="#cnl"/><use href="#deco"/>
<rect x="1.75" y="1.75" width="528.0" height="461.5" fill="none" stroke="#000" stroke-width="3.5"/>
<path d="M81.4,3V7.5M196.6,3V7.5M294.4,3V7.5M390.3,3V7.5M499.5,3V7.5M114,462.0V457.5M282,462.0V457.5M448,462.0V457.5M3,110.8H7.5M3,244H7.5M3,375.9H7.5M528.5,20.1H524.0M528.5,148.4H524.0M528.5,268.3H524.0M528.5,390.4H524.0" stroke="#000" stroke-width="2.5"/>
<text x="14" y="52" font-size="31" font-weight="bold">(j)</text>
<text x="24" y="437" font-size="32" fill="#333">-1.53</text>
</g>
<g transform="translate(1149.5,1008.9)">
<g clip-path="url(#cn)"><g clip-path="url(#ch)"><g filter="url(#fk)"><rect x="-60" y="-60" width="652" height="586" fill="rgb(117,117,117)"/><ellipse cx="45" cy="180" rx="28" ry="55" fill="rgb(21,21,21)"/><ellipse cx="455" cy="80" rx="40" ry="30" fill="rgb(155,155,155)"/><ellipse cx="320" cy="285" rx="40" ry="25" fill="rgb(128,128,128)"/><ellipse cx="140" cy="100" rx="25" ry="30" fill="rgb(64,64,64)"/><ellipse cx="330" cy="185" rx="25" ry="25" fill="rgb(64,64,64)"/><ellipse cx="240" cy="360" rx="25" ry="25" fill="rgb(128,128,128)"/><ellipse cx="85" cy="190" rx="30" ry="20" fill="rgb(25,25,25)"/><ellipse cx="400" cy="130" rx="20" ry="25" fill="rgb(85,85,85)"/><ellipse cx="185" cy="300" rx="25" ry="18" fill="rgb(53,53,53)"/><ellipse cx="393" cy="303" rx="30" ry="13" fill="rgb(28,28,28)"/><ellipse cx="430" cy="330" rx="15" ry="25" fill="rgb(106,106,106)"/><ellipse cx="145" cy="190" rx="18" ry="20" fill="rgb(28,28,28)"/><ellipse cx="345" cy="345" rx="25" ry="13" fill="rgb(28,28,28)"/><ellipse cx="255" cy="200" rx="20" ry="15" fill="rgb(230,230,230)"/><ellipse cx="170" cy="245" rx="25" ry="12" fill="rgb(234,234,234)"/><ellipse cx="190" cy="270" rx="25" ry="12" fill="rgb(234,234,234)"/><ellipse cx="180" cy="145" rx="20" ry="12" fill="rgb(234,234,234)"/><ellipse cx="155" cy="275" rx="17" ry="13" fill="rgb(234,234,234)"/><ellipse cx="237" cy="282" rx="13" ry="17" fill="rgb(230,230,230)"/><ellipse cx="260" cy="250" rx="17" ry="13" fill="rgb(240,240,240)"/><ellipse cx="395" cy="188" rx="13" ry="17" fill="rgb(230,230,230)"/><ellipse cx="215" cy="172" rx="16" ry="12" fill="rgb(32,32,32)"/><ellipse cx="100" cy="165" rx="20" ry="8" fill="rgb(212,212,212)"/><ellipse cx="100" cy="107" rx="11" ry="12" fill="rgb(32,32,32)"/><ellipse cx="78" cy="248" rx="13" ry="10" fill="rgb(32,32,32)"/><ellipse cx="335" cy="410" rx="12" ry="10" fill="rgb(138,138,138)"/><ellipse cx="437" cy="70" rx="12" ry="8" fill="rgb(202,202,202)"/><ellipse cx="121" cy="140" rx="10" ry="8" fill="rgb(212,212,212)"/><ellipse cx="485" cy="82" rx="10" ry="8" fill="rgb(223,223,223)"/><ellipse cx="192" cy="128" rx="8" ry="9" fill="rgb(42,42,42)"/><ellipse cx="293" cy="347" rx="9" ry="8" fill="rgb(234,234,234)"/><ellipse cx="445" cy="153" rx="7" ry="10" fill="rgb(212,212,212)"/><ellipse cx="415" cy="228" rx="7" ry="9" fill="rgb(223,223,223)"/><ellipse cx="455" cy="113" rx="7" ry="8" fill="rgb(64,64,64)"/><ellipse cx="287" cy="275" rx="10" ry="5" fill="rgb(223,223,223)"/></g></g></g>
<use href="#prov"/><use href="#cnl"/><use href="#deco"/>
<rect x="1.75" y="1.75" width="528.0" height="461.5" fill="none" stroke="#000" stroke-width="3.5"/>
<path d="M81.4,3V7.5M196.6,3V7.5M294.4,3V7.5M390.3,3V7.5M499.5,3V7.5M114,462.0V457.5M282,462.0V457.5M448,462.0V457.5M3,110.8H7.5M3,244H7.5M3,375.9H7.5M528.5,20.1H524.0M528.5,148.4H524.0M528.5,268.3H524.0M528.5,390.4H524.0" stroke="#000" stroke-width="2.5"/>
<text x="14" y="52" font-size="31" font-weight="bold">(k)</text>
<text x="24" y="437" font-size="32" fill="#333">-1.47</text>
</g>
<g transform="translate(1149.2,1485.2)">
<g clip-path="url(#cn)"><g filter="url(#fl)"><rect x="-60" y="-60" width="652" height="586" fill="rgb(128,128,128)"/><ellipse cx="100" cy="230" rx="50" ry="40" fill="rgb(155,155,155)"/><ellipse cx="370" cy="140" rx="40" ry="35" fill="rgb(42,42,42)"/><ellipse cx="445" cy="55" rx="35" ry="35" fill="rgb(159,159,159)"/><ellipse cx="390" cy="230" rx="30" ry="30" fill="rgb(159,159,159)"/><ellipse cx="160" cy="120" rx="45" ry="20" fill="rgb(28,28,28)"/><ellipse cx="240" cy="360" rx="25" ry="25" fill="rgb(149,149,149)"/><ellipse cx="215" cy="237" rx="30" ry="17" fill="rgb(28,28,28)"/><ellipse cx="380" cy="360" rx="30" ry="15" fill="rgb(106,106,106)"/><ellipse cx="45" cy="165" rx="22" ry="20" fill="rgb(64,64,64)"/><ellipse cx="127" cy="222" rx="22" ry="16" fill="rgb(230,230,230)"/><ellipse cx="303" cy="287" rx="20" ry="17" fill="rgb(223,223,223)"/><ellipse cx="270" cy="220" rx="20" ry="15" fill="rgb(223,223,223)"/><ellipse cx="158" cy="72" rx="13" ry="20" fill="rgb(38,38,38)"/><ellipse cx="455" cy="113" rx="20" ry="13" fill="rgb(38,38,38)"/><ellipse cx="385" cy="115" rx="15" ry="15" fill="rgb(28,28,28)"/><ellipse cx="105" cy="90" rx="15" ry="12" fill="rgb(53,53,53)"/><ellipse cx="297" cy="236" rx="20" ry="9" fill="rgb(53,53,53)"/><ellipse cx="393" cy="302" rx="18" ry="9" fill="rgb(42,42,42)"/><ellipse cx="114" cy="185" rx="12" ry="13" fill="rgb(240,240,240)"/><ellipse cx="260" cy="153" rx="15" ry="10" fill="rgb(42,42,42)"/><ellipse cx="224" cy="168" rx="13" ry="10" fill="rgb(42,42,42)"/><ellipse cx="315" cy="160" rx="13" ry="10" fill="rgb(38,38,38)"/><ellipse cx="224" cy="205" rx="13" ry="10" fill="rgb(49,49,49)"/><ellipse cx="217" cy="268" rx="13" ry="10" fill="rgb(244,244,244)"/><ellipse cx="345" cy="340" rx="13" ry="10" fill="rgb(59,59,59)"/><ellipse cx="160" cy="182" rx="11" ry="11" fill="rgb(240,240,240)"/><ellipse cx="420" cy="90" rx="12" ry="10" fill="rgb(202,202,202)"/><ellipse cx="65" cy="135" rx="12" ry="10" fill="rgb(212,212,212)"/><ellipse cx="375" cy="275" rx="12" ry="10" fill="rgb(223,223,223)"/><ellipse cx="287" cy="345" rx="8" ry="15" fill="rgb(230,230,230)"/><ellipse cx="335" cy="410" rx="12" ry="10" fill="rgb(85,85,85)"/><ellipse cx="385" cy="73" rx="10" ry="10" fill="rgb(42,42,42)"/><ellipse cx="435" cy="30" rx="10" ry="10" fill="rgb(202,202,202)"/><ellipse cx="150" cy="280" rx="8" ry="10" fill="rgb(234,234,234)"/><ellipse cx="420" cy="55" rx="8" ry="7" fill="rgb(42,42,42)"/></g></g>
<use href="#prov"/><use href="#cnl"/><use href="#deco"/>
<rect x="1.75" y="1.75" width="528.0" height="461.5" fill="none" stroke="#000" stroke-width="3.5"/>
<path d="M81.4,3V7.5M196.6,3V7.5M294.4,3V7.5M390.3,3V7.5M499.5,3V7.5M114,462.0V457.5M282,462.0V457.5M448,462.0V457.5M3,110.8H7.5M3,244H7.5M3,375.9H7.5M528.5,20.1H524.0M528.5,148.4H524.0M528.5,268.3H524.0M528.5,390.4H524.0" stroke="#000" stroke-width="2.5"/>
<text x="14" y="52" font-size="31" font-weight="bold">(l)</text>
<text x="24" y="437" font-size="32" fill="#333">-1.49</text>
</g>
<g transform="translate(1689.7,62.8)">
<g clip-path="url(#cn)"><g filter="url(#fm)"><rect x="-60" y="-60" width="652" height="586" fill="rgb(128,128,128)"/><ellipse cx="460" cy="80" rx="45" ry="45" fill="rgb(144,144,144)"/><ellipse cx="85" cy="215" rx="45" ry="30" fill="rgb(96,96,96)"/><ellipse cx="120" cy="100" rx="45" ry="30" fill="rgb(96,96,96)"/><ellipse cx="325" cy="210" rx="30" ry="40" fill="rgb(138,138,138)"/><ellipse cx="330" cy="290" rx="40" ry="30" fill="rgb(128,128,128)"/><ellipse cx="175" cy="290" rx="40" ry="20" fill="rgb(149,149,149)"/><ellipse cx="75" cy="160" rx="33" ry="22" fill="rgb(21,21,21)"/><ellipse cx="237" cy="350" rx="25" ry="25" fill="rgb(155,155,155)"/><ellipse cx="170" cy="245" rx="30" ry="20" fill="rgb(244,244,244)"/><ellipse cx="395" cy="222" rx="30" ry="18" fill="rgb(230,230,230)"/><ellipse cx="425" cy="140" rx="25" ry="20" fill="rgb(106,106,106)"/><ellipse cx="290" cy="340" rx="28" ry="14" fill="rgb(230,230,230)"/><ellipse cx="395" cy="345" rx="25" ry="15" fill="rgb(138,138,138)"/><ellipse cx="52" cy="228" rx="15" ry="24" fill="rgb(42,42,42)"/><ellipse cx="200" cy="165" rx="30" ry="12" fill="rgb(149,149,149)"/><ellipse cx="28" cy="150" rx="14" ry="22" fill="rgb(42,42,42)"/><ellipse cx="140" cy="185" rx="20" ry="15" fill="rgb(28,28,28)"/><ellipse cx="240" cy="300" rx="12" ry="25" fill="rgb(212,212,212)"/><ellipse cx="400" cy="305" rx="30" ry="10" fill="rgb(49,49,49)"/><ellipse cx="265" cy="155" rx="25" ry="10" fill="rgb(42,42,42)"/><ellipse cx="208" cy="185" rx="16" ry="15" fill="rgb(49,49,49)"/><ellipse cx="340" cy="360" rx="13" ry="18" fill="rgb(64,64,64)"/><ellipse cx="140" cy="145" rx="15" ry="12" fill="rgb(42,42,42)"/><ellipse cx="150" cy="90" rx="12" ry="15" fill="rgb(138,138,138)"/><ellipse cx="260" cy="212" rx="15" ry="10" fill="rgb(212,212,212)"/><ellipse cx="325" cy="155" rx="18" ry="8" fill="rgb(32,32,32)"/><ellipse cx="220" cy="263" rx="12" ry="12" fill="rgb(234,234,234)"/><ellipse cx="425" cy="300" rx="12" ry="12" fill="rgb(42,42,42)"/><ellipse cx="249" cy="183" rx="12" ry="11" fill="rgb(240,240,240)"/><ellipse cx="185" cy="118" rx="15" ry="8" fill="rgb(212,212,212)"/><ellipse cx="300" cy="278" rx="15" ry="8" fill="rgb(212,212,212)"/><ellipse cx="335" cy="410" rx="12" ry="10" fill="rgb(117,117,117)"/><ellipse cx="385" cy="130" rx="13" ry="8" fill="rgb(64,64,64)"/><ellipse cx="258" cy="270" rx="10" ry="9" fill="rgb(234,234,234)"/><ellipse cx="138" cy="215" rx="10" ry="8" fill="rgb(212,212,212)"/><ellipse cx="405" cy="35" rx="8" ry="8" fill="rgb(234,234,234)"/><ellipse cx="385" cy="152" rx="7" ry="7" fill="rgb(212,212,212)"/><ellipse cx="445" cy="45" rx="6" ry="8" fill="rgb(212,212,212)"/><ellipse cx="468" cy="80" rx="7" ry="6" fill="rgb(212,212,212)"/><ellipse cx="178" cy="168" rx="6" ry="6" fill="rgb(212,212,212)"/></g></g>
<use href="#prov"/><use href="#cnl"/><use href="#deco"/>
<rect x="1.75" y="1.75" width="528.0" height="461.5" fill="none" stroke="#000" stroke-width="3.5"/>
<path d="M81.4,3V7.5M196.6,3V7.5M294.4,3V7.5M390.3,3V7.5M499.5,3V7.5M114,462.0V457.5M282,462.0V457.5M448,462.0V457.5M3,110.8H7.5M3,244H7.5M3,375.9H7.5M528.5,20.1H524.0M528.5,148.4H524.0M528.5,268.3H524.0M528.5,390.4H524.0" stroke="#000" stroke-width="2.5"/>
<text x="14" y="52" font-size="31" font-weight="bold">(m)</text>
<text x="24" y="437" font-size="32" fill="#333">-1.79</text>
</g>
<g transform="translate(1691.0,536.1)">
<g clip-path="url(#cn)"><g filter="url(#fn)"><rect x="-60" y="-60" width="652" height="586" fill="rgb(138,138,138)"/><ellipse cx="150" cy="170" rx="100" ry="80" fill="rgb(159,159,159)"/><ellipse cx="370" cy="290" rx="55" ry="35" fill="rgb(106,106,106)"/><ellipse cx="465" cy="100" rx="40" ry="40" fill="rgb(96,96,96)"/><ellipse cx="145" cy="90" rx="40" ry="25" fill="rgb(117,117,117)"/><ellipse cx="330" cy="200" rx="25" ry="40" fill="rgb(138,138,138)"/><ellipse cx="238" cy="215" rx="25" ry="33" fill="rgb(244,244,244)"/><ellipse cx="428" cy="138" rx="33" ry="20" fill="rgb(91,91,91)"/><ellipse cx="237" cy="283" rx="30" ry="18" fill="rgb(230,230,230)"/><ellipse cx="365" cy="145" rx="25" ry="20" fill="rgb(138,138,138)"/><ellipse cx="280" cy="215" rx="15" ry="30" fill="rgb(230,230,230)"/><ellipse cx="385" cy="225" rx="27" ry="14" fill="rgb(234,234,234)"/><ellipse cx="390" cy="355" rx="30" ry="12" fill="rgb(117,117,117)"/><ellipse cx="75" cy="208" rx="22" ry="16" fill="rgb(234,234,234)"/><ellipse cx="292" cy="295" rx="14" ry="22" fill="rgb(234,234,234)"/><ellipse cx="430" cy="40" rx="20" ry="15" fill="rgb(159,159,159)"/><ellipse cx="270" cy="160" rx="20" ry="15" fill="rgb(106,106,106)"/><ellipse cx="180" cy="174" rx="13" ry="16" fill="rgb(240,240,240)"/><ellipse cx="130" cy="234" rx="17" ry="8" fill="rgb(219,219,219)"/><ellipse cx="503" cy="62" rx="8" ry="17" fill="rgb(212,212,212)"/><ellipse cx="290" cy="335" rx="13" ry="10" fill="rgb(234,234,234)"/><ellipse cx="437" cy="40" rx="10" ry="12" fill="rgb(202,202,202)"/><ellipse cx="335" cy="410" rx="12" ry="10" fill="rgb(117,117,117)"/><ellipse cx="78" cy="262" rx="13" ry="9" fill="rgb(223,223,223)"/><ellipse cx="385" cy="305" rx="15" ry="7" fill="rgb(64,64,64)"/><ellipse cx="52" cy="132" rx="13" ry="8" fill="rgb(223,223,223)"/><ellipse cx="163" cy="224" rx="8" ry="13" fill="rgb(223,223,223)"/><ellipse cx="58" cy="234" rx="9" ry="11" fill="rgb(234,234,234)"/><ellipse cx="164" cy="276" rx="11" ry="8" fill="rgb(230,230,230)"/><ellipse cx="233" cy="368" rx="8" ry="9" fill="rgb(234,234,234)"/><ellipse cx="133" cy="285" rx="9" ry="7" fill="rgb(223,223,223)"/><ellipse cx="385" cy="170" rx="10" ry="6" fill="rgb(212,212,212)"/><ellipse cx="264" cy="350" rx="7" ry="7" fill="rgb(234,234,234)"/><ellipse cx="425" cy="330" rx="7" ry="6" fill="rgb(234,234,234)"/></g></g>
<use href="#prov"/><use href="#cnl"/><use href="#deco"/>
<rect x="1.75" y="1.75" width="528.0" height="461.5" fill="none" stroke="#000" stroke-width="3.5"/>
<path d="M81.4,3V7.5M196.6,3V7.5M294.4,3V7.5M390.3,3V7.5M499.5,3V7.5M114,462.0V457.5M282,462.0V457.5M448,462.0V457.5M3,110.8H7.5M3,244H7.5M3,375.9H7.5M528.5,20.1H524.0M528.5,148.4H524.0M528.5,268.3H524.0M528.5,390.4H524.0" stroke="#000" stroke-width="2.5"/>
<text x="14" y="52" font-size="31" font-weight="bold">(n)</text>
<text x="24" y="437" font-size="32" fill="#333">-1.87</text>
</g>
<g transform="translate(1689.3,1008.8)">
<g clip-path="url(#cn)"><g clip-path="url(#ch)"><g filter="url(#fo)"><rect x="-60" y="-60" width="652" height="586" fill="rgb(123,123,123)"/><ellipse cx="465" cy="100" rx="45" ry="45" fill="rgb(106,106,106)"/><ellipse cx="50" cy="195" rx="30" ry="55" fill="rgb(25,25,25)"/><ellipse cx="320" cy="280" rx="45" ry="30" fill="rgb(128,128,128)"/><ellipse cx="130" cy="110" rx="45" ry="25" fill="rgb(74,74,74)"/><ellipse cx="185" cy="260" rx="35" ry="30" fill="rgb(159,159,159)"/><ellipse cx="75" cy="180" rx="35" ry="25" fill="rgb(21,21,21)"/><ellipse cx="240" cy="360" rx="25" ry="25" fill="rgb(149,149,149)"/><ellipse cx="125" cy="240" rx="30" ry="20" fill="rgb(96,96,96)"/><ellipse cx="110" cy="160" rx="35" ry="15" fill="rgb(138,138,138)"/><ellipse cx="385" cy="200" rx="20" ry="25" fill="rgb(149,149,149)"/><ellipse cx="152" cy="190" rx="20" ry="20" fill="rgb(28,28,28)"/><ellipse cx="320" cy="185" rx="20" ry="20" fill="rgb(42,42,42)"/><ellipse cx="345" cy="345" rx="25" ry="13" fill="rgb(32,32,32)"/><ellipse cx="172" cy="245" rx="18" ry="17" fill="rgb(230,230,230)"/><ellipse cx="390" cy="360" rx="25" ry="12" fill="rgb(144,144,144)"/><ellipse cx="180" cy="145" rx="20" ry="13" fill="rgb(230,230,230)"/><ellipse cx="265" cy="200" rx="13" ry="17" fill="rgb(212,212,212)"/><ellipse cx="383" cy="127" rx="13" ry="13" fill="rgb(53,53,53)"/><ellipse cx="220" cy="170" rx="13" ry="12" fill="rgb(32,32,32)"/><ellipse cx="335" cy="410" rx="12" ry="10" fill="rgb(117,117,117)"/><ellipse cx="170" cy="295" rx="13" ry="7" fill="rgb(64,64,64)"/><ellipse cx="158" cy="102" rx="10" ry="9" fill="rgb(42,42,42)"/><ellipse cx="190" cy="127" rx="9" ry="10" fill="rgb(42,42,42)"/><ellipse cx="116" cy="145" rx="11" ry="8" fill="rgb(202,202,202)"/><ellipse cx="103" cy="105" rx="9" ry="9" fill="rgb(42,42,42)"/><ellipse cx="455" cy="121" rx="8" ry="10" fill="rgb(42,42,42)"/><ellipse cx="380" cy="303" rx="10" ry="7" fill="rgb(42,42,42)"/><ellipse cx="295" cy="347" rx="10" ry="7" fill="rgb(223,223,223)"/><ellipse cx="412" cy="223" rx="8" ry="8" fill="rgb(212,212,212)"/><ellipse cx="430" cy="333" rx="8" ry="8" fill="rgb(230,230,230)"/><ellipse cx="240" cy="278" rx="9" ry="7" fill="rgb(230,230,230)"/></g></g></g>
<use href="#prov"/><use href="#cnl"/><use href="#deco"/>
<rect x="1.75" y="1.75" width="528.0" height="461.5" fill="none" stroke="#000" stroke-width="3.5"/>
<path d="M81.4,3V7.5M196.6,3V7.5M294.4,3V7.5M390.3,3V7.5M499.5,3V7.5M114,462.0V457.5M282,462.0V457.5M448,462.0V457.5M3,110.8H7.5M3,244H7.5M3,375.9H7.5M528.5,20.1H524.0M528.5,148.4H524.0M528.5,268.3H524.0M528.5,390.4H524.0" stroke="#000" stroke-width="2.5"/>
<text x="14" y="52" font-size="31" font-weight="bold">(o)</text>
<text x="24" y="437" font-size="32" fill="#333">-1.77</text>
</g>
<g transform="translate(1689.2,1485.6)">
<g clip-path="url(#cn)"><g filter="url(#fp)"><rect x="-60" y="-60" width="652" height="586" fill="rgb(134,134,134)"/><ellipse cx="350" cy="275" rx="55" ry="30" fill="rgb(106,106,106)"/><ellipse cx="455" cy="65" rx="40" ry="35" fill="rgb(155,155,155)"/><ellipse cx="90" cy="200" rx="50" ry="25" fill="rgb(159,159,159)"/><ellipse cx="375" cy="140" rx="33" ry="35" fill="rgb(38,38,38)"/><ellipse cx="165" cy="120" rx="45" ry="20" fill="rgb(28,28,28)"/><ellipse cx="120" cy="225" rx="40" ry="18" fill="rgb(234,234,234)"/><ellipse cx="240" cy="360" rx="25" ry="25" fill="rgb(149,149,149)"/><ellipse cx="130" cy="260" rx="40" ry="15" fill="rgb(128,128,128)"/><ellipse cx="133" cy="225" rx="25" ry="17" fill="rgb(251,251,251)"/><ellipse cx="190" cy="220" rx="25" ry="12" fill="rgb(106,106,106)"/><ellipse cx="340" cy="350" rx="25" ry="12" fill="rgb(102,102,102)"/><ellipse cx="390" cy="360" rx="25" ry="12" fill="rgb(149,149,149)"/><ellipse cx="455" cy="116" rx="18" ry="13" fill="rgb(32,32,32)"/><ellipse cx="264" cy="218" rx="13" ry="18" fill="rgb(234,234,234)"/><ellipse cx="100" cy="188" rx="33" ry="7" fill="rgb(230,230,230)"/><ellipse cx="385" cy="120" rx="15" ry="15" fill="rgb(28,28,28)"/><ellipse cx="225" cy="233" rx="17" ry="12" fill="rgb(32,32,32)"/><ellipse cx="318" cy="160" rx="16" ry="12" fill="rgb(32,32,32)"/><ellipse cx="430" cy="290" rx="15" ry="12" fill="rgb(74,74,74)"/><ellipse cx="158" cy="65" rx="12" ry="13" fill="rgb(42,42,42)"/><ellipse cx="60" cy="135" rx="18" ry="8" fill="rgb(212,212,212)"/><ellipse cx="217" cy="268" rx="16" ry="8" fill="rgb(244,244,244)"/><ellipse cx="257" cy="158" rx="12" ry="10" fill="rgb(38,38,38)"/><ellipse cx="288" cy="345" rx="8" ry="15" fill="rgb(234,234,234)"/><ellipse cx="335" cy="410" rx="12" ry="10" fill="rgb(91,91,91)"/><ellipse cx="160" cy="180" rx="10" ry="11" fill="rgb(240,240,240)"/><ellipse cx="263" cy="263" rx="10" ry="10" fill="rgb(244,244,244)"/><ellipse cx="118" cy="187" rx="12" ry="8" fill="rgb(244,244,244)"/><ellipse cx="412" cy="51" rx="10" ry="9" fill="rgb(64,64,64)"/><ellipse cx="385" cy="76" rx="10" ry="8" fill="rgb(38,38,38)"/><ellipse cx="295" cy="220" rx="8" ry="10" fill="rgb(74,74,74)"/><ellipse cx="96" cy="160" rx="9" ry="8" fill="rgb(42,42,42)"/><ellipse cx="283" cy="298" rx="8" ry="9" fill="rgb(244,244,244)"/><ellipse cx="320" cy="280" rx="10" ry="7" fill="rgb(212,212,212)"/><ellipse cx="224" cy="170" rx="8" ry="8" fill="rgb(42,42,42)"/><ellipse cx="320" cy="373" rx="9" ry="5" fill="rgb(223,223,223)"/><ellipse cx="425" cy="23" rx="5" ry="8" fill="rgb(234,234,234)"/><ellipse cx="415" cy="245" rx="8" ry="5" fill="rgb(212,212,212)"/><ellipse cx="423" cy="327" rx="6" ry="5" fill="rgb(223,223,223)"/><ellipse cx="503" cy="104" rx="4" ry="7" fill="rgb(223,223,223)"/></g></g>
<use href="#prov"/><use href="#cnl"/><use href="#deco"/>
<rect x="1.75" y="1.75" width="528.0" height="461.5" fill="none" stroke="#000" stroke-width="3.5"/>
<path d="M81.4,3V7.5M196.6,3V7.5M294.4,3V7.5M390.3,3V7.5M499.5,3V7.5M114,462.0V457.5M282,462.0V457.5M448,462.0V457.5M3,110.8H7.5M3,244H7.5M3,375.9H7.5M528.5,20.1H524.0M528.5,148.4H524.0M528.5,268.3H524.0M528.5,390.4H524.0" stroke="#000" stroke-width="2.5"/>
<text x="14" y="52" font-size="31" font-weight="bold">(p)</text>
<text x="24" y="437" font-size="32" fill="#333">-1.80</text>
</g>
<text x="336" y="49" font-size="31" font-weight="bold" text-anchor="middle">MDD</text>
<text x="869" y="47" font-size="31" font-weight="bold" text-anchor="middle">MDS</text>
<text x="1425.5" y="54.5" font-size="31" font-weight="bold" text-anchor="middle">MDI</text>
<text x="1977" y="54.5" font-size="31" font-weight="bold" text-anchor="middle">MDP</text>
<text transform="translate(49.5,279) rotate(-90)" font-size="31" font-weight="bold" text-anchor="middle">CMA</text>
<text transform="translate(49.5,741) rotate(-90)" font-size="31" font-weight="bold" text-anchor="middle">PERSIANN</text>
<text transform="translate(49.5,1230) rotate(-90)" font-size="31" font-weight="bold" text-anchor="middle">CHIRPS</text>
<text transform="translate(49.5,1708.6) rotate(-90)" font-size="31" font-weight="bold" text-anchor="middle">MSWEP</text>
<text transform="translate(2245,82.9) rotate(-90)" font-size="25" text-anchor="middle">50° N</text>
<text transform="translate(2245,211.2) rotate(-90)" font-size="25" text-anchor="middle">40° N</text>
<text transform="translate(2245,331.1) rotate(-90)" font-size="25" text-anchor="middle">30° N</text>
<text transform="translate(2245,453.2) rotate(-90)" font-size="25" text-anchor="middle">20° N</text>
<text transform="translate(2245,556.2) rotate(-90)" font-size="25" text-anchor="middle">50° N</text>
<text transform="translate(2245,684.5) rotate(-90)" font-size="25" text-anchor="middle">40° N</text>
<text transform="translate(2245,804.4) rotate(-90)" font-size="25" text-anchor="middle">30° N</text>
<text transform="translate(2245,926.5) rotate(-90)" font-size="25" text-anchor="middle">20° N</text>
<text transform="translate(2245,1028.9) rotate(-90)" font-size="25" text-anchor="middle">50° N</text>
<text transform="translate(2245,1157.2) rotate(-90)" font-size="25" text-anchor="middle">40° N</text>
<text transform="translate(2245,1277.1) rotate(-90)" font-size="25" text-anchor="middle">30° N</text>
<text transform="translate(2245,1399.2) rotate(-90)" font-size="25" text-anchor="middle">20° N</text>
<text transform="translate(2245,1505.7) rotate(-90)" font-size="25" text-anchor="middle">50° N</text>
<text transform="translate(2245,1634.0) rotate(-90)" font-size="25" text-anchor="middle">40° N</text>
<text transform="translate(2245,1753.9) rotate(-90)" font-size="25" text-anchor="middle">30° N</text>
<text transform="translate(2245,1876.0) rotate(-90)" font-size="25" text-anchor="middle">20° N</text>
<text x="177.3" y="1975" font-size="25" text-anchor="middle">90° E</text>
<text x="345.3" y="1975" font-size="25" text-anchor="middle">105° E</text>
<text x="511.3" y="1975" font-size="25" text-anchor="middle">120° E</text>
<text x="721.0" y="1975" font-size="25" text-anchor="middle">90° E</text>
<text x="889.0" y="1975" font-size="25" text-anchor="middle">105° E</text>
<text x="1055.0" y="1975" font-size="25" text-anchor="middle">120° E</text>
<text x="1263.2" y="1975" font-size="25" text-anchor="middle">90° E</text>
<text x="1431.2" y="1975" font-size="25" text-anchor="middle">105° E</text>
<text x="1597.2" y="1975" font-size="25" text-anchor="middle">120° E</text>
<text x="1803.2" y="1975" font-size="25" text-anchor="middle">90° E</text>
<text x="1971.2" y="1975" font-size="25" text-anchor="middle">105° E</text>
<text x="2137.2" y="1975" font-size="25" text-anchor="middle">120° E</text>
<rect x="94.10" y="1988.7" width="43.49" height="22.3" fill="rgb(0, 0, 240)"/>
<rect x="137.29" y="1988.7" width="43.49" height="22.3" fill="rgb(60, 80, 240)"/>
<rect x="180.48" y="1988.7" width="43.49" height="22.3" fill="rgb(50, 160, 240)"/>
<rect x="223.67" y="1988.7" width="43.49" height="22.3" fill="rgb(0, 250, 250)"/>
<rect x="266.86" y="1988.7" width="43.49" height="22.3" fill="rgb(130, 240, 170)"/>
<rect x="310.05" y="1988.7" width="43.49" height="22.3" fill="rgb(205, 245, 90)"/>
<rect x="353.24" y="1988.7" width="43.49" height="22.3" fill="rgb(255, 255, 0)"/>
<rect x="396.43" y="1988.7" width="43.49" height="22.3" fill="rgb(250, 175, 20)"/>
<rect x="439.62" y="1988.7" width="43.49" height="22.3" fill="rgb(250, 100, 20)"/>
<rect x="482.81" y="1988.7" width="43.49" height="22.3" fill="rgb(240, 0, 0)"/>
<rect x="94.1" y="1988.7" width="431.90" height="22.3" fill="none" stroke="#555" stroke-width="1"/>
<path d="M137.29,1988.7V2011" stroke="#555" stroke-width="0.8"/>
<path d="M180.48,1988.7V2011" stroke="#555" stroke-width="0.8"/>
<path d="M223.67,1988.7V2011" stroke="#555" stroke-width="0.8"/>
<path d="M266.86,1988.7V2011" stroke="#555" stroke-width="0.8"/>
<path d="M310.05,1988.7V2011" stroke="#555" stroke-width="0.8"/>
<path d="M353.24,1988.7V2011" stroke="#555" stroke-width="0.8"/>
<path d="M396.43,1988.7V2011" stroke="#555" stroke-width="0.8"/>
<path d="M439.62,1988.7V2011" stroke="#555" stroke-width="0.8"/>
<path d="M482.81,1988.7V2011" stroke="#555" stroke-width="0.8"/>
<text x="94.1" y="2046" font-size="34" text-anchor="middle">2.2</text>
<text x="180.5" y="2046" font-size="34" text-anchor="middle">3.3</text>
<text x="266.9" y="2046" font-size="34" text-anchor="middle">3.7</text>
<text x="353.2" y="2046" font-size="34" text-anchor="middle">4.5</text>
<text x="439.6" y="2046" font-size="34" text-anchor="middle">5.2</text>
<text x="526.0" y="2046" font-size="34" text-anchor="middle">10.3</text>
<rect x="638.70" y="1988.7" width="43.49" height="22.3" fill="rgb(0, 0, 240)"/>
<rect x="681.89" y="1988.7" width="43.49" height="22.3" fill="rgb(60, 80, 240)"/>
<rect x="725.08" y="1988.7" width="43.49" height="22.3" fill="rgb(50, 160, 240)"/>
<rect x="768.27" y="1988.7" width="43.49" height="22.3" fill="rgb(0, 250, 250)"/>
<rect x="811.46" y="1988.7" width="43.49" height="22.3" fill="rgb(130, 240, 170)"/>
<rect x="854.65" y="1988.7" width="43.49" height="22.3" fill="rgb(205, 245, 90)"/>
<rect x="897.84" y="1988.7" width="43.49" height="22.3" fill="rgb(255, 255, 0)"/>
<rect x="941.03" y="1988.7" width="43.49" height="22.3" fill="rgb(250, 175, 20)"/>
<rect x="984.22" y="1988.7" width="43.49" height="22.3" fill="rgb(250, 100, 20)"/>
<rect x="1027.41" y="1988.7" width="43.49" height="22.3" fill="rgb(240, 0, 0)"/>
<rect x="638.7" y="1988.7" width="431.90" height="22.3" fill="none" stroke="#555" stroke-width="1"/>
<path d="M681.89,1988.7V2011" stroke="#555" stroke-width="0.8"/>
<path d="M725.08,1988.7V2011" stroke="#555" stroke-width="0.8"/>
<path d="M768.27,1988.7V2011" stroke="#555" stroke-width="0.8"/>
<path d="M811.46,1988.7V2011" stroke="#555" stroke-width="0.8"/>
<path d="M854.65,1988.7V2011" stroke="#555" stroke-width="0.8"/>
<path d="M897.84,1988.7V2011" stroke="#555" stroke-width="0.8"/>
<path d="M941.03,1988.7V2011" stroke="#555" stroke-width="0.8"/>
<path d="M984.22,1988.7V2011" stroke="#555" stroke-width="0.8"/>
<path d="M1027.41,1988.7V2011" stroke="#555" stroke-width="0.8"/>
<text x="638.7" y="2046" font-size="34" text-anchor="middle">-3</text>
<text x="725.1" y="2046" font-size="34" text-anchor="middle">-4.5</text>
<text x="811.5" y="2046" font-size="34" text-anchor="middle">-5.4</text>
<text x="897.8" y="2046" font-size="34" text-anchor="middle">-6.1</text>
<text x="984.2" y="2046" font-size="34" text-anchor="middle">-7.5</text>
<text x="1070.6" y="2046" font-size="34" text-anchor="middle">-15</text>
<rect x="1183.60" y="1988.7" width="43.49" height="22.3" fill="rgb(0, 0, 240)"/>
<rect x="1226.79" y="1988.7" width="43.49" height="22.3" fill="rgb(60, 80, 240)"/>
<rect x="1269.98" y="1988.7" width="43.49" height="22.3" fill="rgb(50, 160, 240)"/>
<rect x="1313.17" y="1988.7" width="43.49" height="22.3" fill="rgb(0, 250, 250)"/>
<rect x="1356.36" y="1988.7" width="43.49" height="22.3" fill="rgb(130, 240, 170)"/>
<rect x="1399.55" y="1988.7" width="43.49" height="22.3" fill="rgb(205, 245, 90)"/>
<rect x="1442.74" y="1988.7" width="43.49" height="22.3" fill="rgb(255, 255, 0)"/>
<rect x="1485.93" y="1988.7" width="43.49" height="22.3" fill="rgb(250, 175, 20)"/>
<rect x="1529.12" y="1988.7" width="43.49" height="22.3" fill="rgb(250, 100, 20)"/>
<rect x="1572.31" y="1988.7" width="43.49" height="22.3" fill="rgb(240, 0, 0)"/>
<rect x="1183.6" y="1988.7" width="431.90" height="22.3" fill="none" stroke="#555" stroke-width="1"/>
<path d="M1226.79,1988.7V2011" stroke="#555" stroke-width="0.8"/>
<path d="M1269.98,1988.7V2011" stroke="#555" stroke-width="0.8"/>
<path d="M1313.17,1988.7V2011" stroke="#555" stroke-width="0.8"/>
<path d="M1356.36,1988.7V2011" stroke="#555" stroke-width="0.8"/>
<path d="M1399.55,1988.7V2011" stroke="#555" stroke-width="0.8"/>
<path d="M1442.74,1988.7V2011" stroke="#555" stroke-width="0.8"/>
<path d="M1485.93,1988.7V2011" stroke="#555" stroke-width="0.8"/>
<path d="M1529.12,1988.7V2011" stroke="#555" stroke-width="0.8"/>
<path d="M1572.31,1988.7V2011" stroke="#555" stroke-width="0.8"/>
<text x="1183.6" y="2046" font-size="34" text-anchor="middle">-1.2</text>
<text x="1270.0" y="2046" font-size="34" text-anchor="middle">-1.3</text>
<text x="1356.4" y="2046" font-size="34" text-anchor="middle">-1.4</text>
<text x="1442.7" y="2046" font-size="34" text-anchor="middle">-1.5</text>
<text x="1529.1" y="2046" font-size="34" text-anchor="middle">-1.6</text>
<text x="1615.5" y="2046" font-size="34" text-anchor="middle">-1.9</text>
<rect x="1733.00" y="1988.7" width="43.49" height="22.3" fill="rgb(0, 0, 240)"/>
<rect x="1776.19" y="1988.7" width="43.49" height="22.3" fill="rgb(60, 80, 240)"/>
<rect x="1819.38" y="1988.7" width="43.49" height="22.3" fill="rgb(50, 160, 240)"/>
<rect x="1862.57" y="1988.7" width="43.49" height="22.3" fill="rgb(0, 250, 250)"/>
<rect x="1905.76" y="1988.7" width="43.49" height="22.3" fill="rgb(130, 240, 170)"/>
<rect x="1948.95" y="1988.7" width="43.49" height="22.3" fill="rgb(205, 245, 90)"/>
<rect x="1992.14" y="1988.7" width="43.49" height="22.3" fill="rgb(255, 255, 0)"/>
<rect x="2035.33" y="1988.7" width="43.49" height="22.3" fill="rgb(250, 175, 20)"/>
<rect x="2078.52" y="1988.7" width="43.49" height="22.3" fill="rgb(250, 100, 20)"/>
<rect x="2121.71" y="1988.7" width="43.49" height="22.3" fill="rgb(240, 0, 0)"/>
<rect x="1733" y="1988.7" width="431.90" height="22.3" fill="none" stroke="#555" stroke-width="1"/>
<path d="M1776.19,1988.7V2011" stroke="#555" stroke-width="0.8"/>
<path d="M1819.38,1988.7V2011" stroke="#555" stroke-width="0.8"/>
<path d="M1862.57,1988.7V2011" stroke="#555" stroke-width="0.8"/>
<path d="M1905.76,1988.7V2011" stroke="#555" stroke-width="0.8"/>
<path d="M1948.95,1988.7V2011" stroke="#555" stroke-width="0.8"/>
<path d="M1992.14,1988.7V2011" stroke="#555" stroke-width="0.8"/>
<path d="M2035.33,1988.7V2011" stroke="#555" stroke-width="0.8"/>
<path d="M2078.52,1988.7V2011" stroke="#555" stroke-width="0.8"/>
<path d="M2121.71,1988.7V2011" stroke="#555" stroke-width="0.8"/>
<text x="1733.0" y="2046" font-size="34" text-anchor="middle">-1.4</text>
<text x="1819.4" y="2046" font-size="34" text-anchor="middle">-1.6</text>
<text x="1905.8" y="2046" font-size="34" text-anchor="middle">-1.8</text>
<text x="1992.1" y="2046" font-size="34" text-anchor="middle">-2.0</text>
<text x="2078.5" y="2046" font-size="34" text-anchor="middle">-2.1</text>
<text x="2164.9" y="2046" font-size="34" text-anchor="middle">-2.3</text>
</svg></body></html>
